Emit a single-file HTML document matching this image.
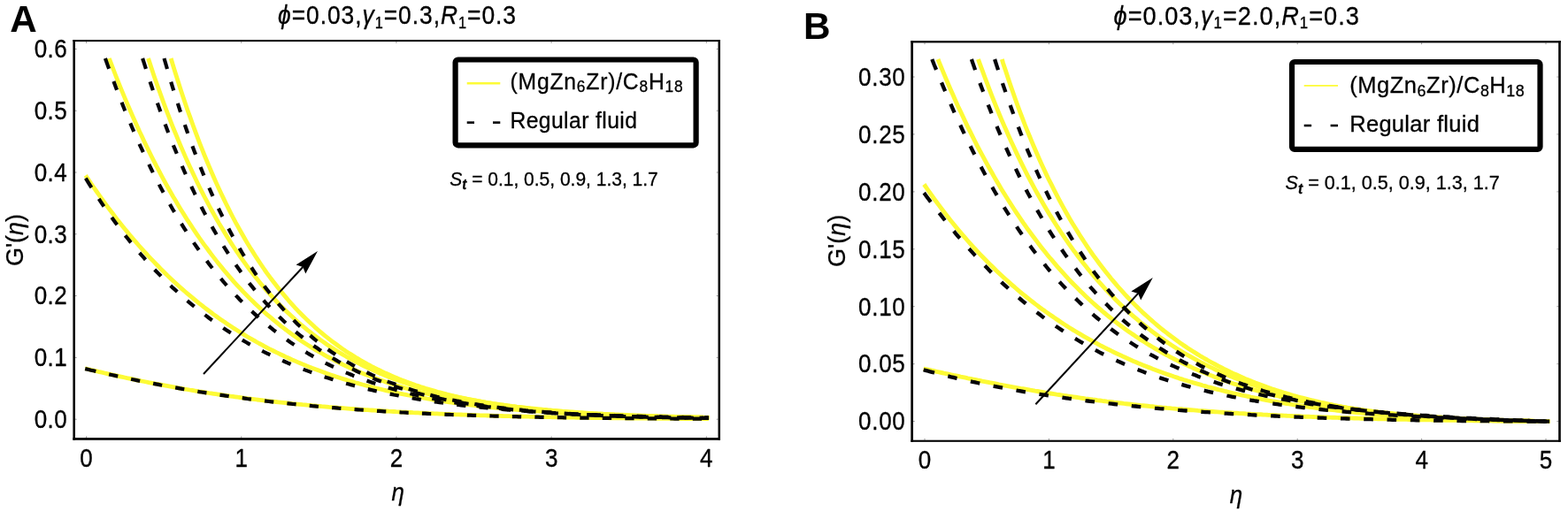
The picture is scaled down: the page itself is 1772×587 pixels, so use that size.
<!DOCTYPE html>
<html lang="en"><head><meta charset="utf-8"><title>Figure</title>
<style>html,body{margin:0;padding:0;background:#fff}body{width:1772px;height:587px;overflow:hidden}svg{display:block}text{font-family:"Liberation Sans", Arial, Helvetica, sans-serif;fill:#000;stroke:#000;stroke-width:0.3px;stroke-linejoin:round}.it{font-style:italic}.b{font-weight:bold}.ns{stroke:none}</style></head><body>
<svg width="1772" height="587" viewBox="0 0 1772 587">
<rect width="1772" height="587" fill="#fff"/>
<g fill="none" stroke="#fdfb36" stroke-width="4.8" stroke-linejoin="round">
<path d="M96.2,416.7 L97.5,417.0 L100.2,417.7 L102.9,418.4 L105.6,419.0 L108.4,419.6 L111.1,420.3 L113.8,420.9 L116.5,421.5 L119.2,422.2 L121.9,422.8 L124.7,423.4 L127.4,424.0 L130.1,424.6 L132.8,425.2 L135.5,425.8 L138.2,426.4 L140.9,427.0 L143.7,427.6 L146.4,428.1 L149.1,428.7 L151.8,429.3 L154.5,429.8 L157.2,430.4 L160.0,431.0 L162.7,431.5 L165.4,432.0 L168.1,432.6 L170.8,433.1 L173.5,433.6 L176.2,434.2 L179.0,434.7 L181.7,435.2 L184.4,435.7 L187.1,436.2 L189.8,436.7 L192.5,437.2 L195.2,437.7 L198.0,438.2 L200.7,438.6 L203.4,439.1 L206.1,439.6 L208.8,440.1 L211.5,440.5 L214.3,441.0 L217.0,441.4 L219.7,441.9 L222.4,442.3 L225.1,442.8 L227.8,443.2 L230.5,443.6 L233.3,444.0 L236.0,444.5 L238.7,444.9 L241.4,445.3 L244.1,445.7 L246.8,446.1 L249.6,446.5 L252.3,446.9 L255.0,447.3 L257.7,447.7 L260.4,448.1 L263.1,448.4 L265.8,448.8 L268.6,449.2 L271.3,449.5 L274.0,449.9 L276.7,450.3 L279.4,450.6 L282.1,451.0 L284.9,451.3 L287.6,451.6 L290.3,452.0 L293.0,452.3 L295.7,452.6 L298.4,453.0 L301.1,453.3 L303.9,453.6 L306.6,453.9 L309.3,454.2 L312.0,454.5 L314.7,454.8 L317.4,455.1 L320.2,455.4 L322.9,455.7 L325.6,456.0 L328.3,456.3 L331.0,456.6 L333.7,456.8 L336.4,457.1 L339.2,457.4 L341.9,457.7 L344.6,457.9 L347.3,458.2 L350.0,458.4 L352.7,458.7 L355.4,458.9 L358.2,459.2 L360.9,459.4 L363.6,459.7 L366.3,459.9 L369.0,460.1 L371.7,460.4 L374.5,460.6 L377.2,460.8 L379.9,461.0 L382.6,461.3 L385.3,461.5 L388.0,461.7 L390.7,461.9 L393.5,462.1 L396.2,462.3 L398.9,462.5 L401.6,462.7 L404.3,462.9 L407.0,463.1 L409.8,463.3 L412.5,463.5 L415.2,463.6 L417.9,463.8 L420.6,464.0 L423.3,464.2 L426.0,464.4 L428.8,464.5 L431.5,464.7 L434.2,464.9 L436.9,465.0 L439.6,465.2 L442.3,465.3 L445.1,465.5 L447.8,465.7 L450.5,465.8 L453.2,466.0 L455.9,466.1 L458.6,466.2 L461.3,466.4 L464.1,466.5 L466.8,466.7 L469.5,466.8 L472.2,466.9 L474.9,467.1 L477.6,467.2 L480.4,467.3 L483.1,467.5 L485.8,467.6 L488.5,467.7 L491.2,467.8 L493.9,467.9 L496.6,468.1 L499.4,468.2 L502.1,468.3 L504.8,468.4 L507.5,468.5 L510.2,468.6 L512.9,468.7 L515.7,468.8 L518.4,468.9 L521.1,469.0 L523.8,469.1 L526.5,469.2 L529.2,469.3 L531.9,469.4 L534.7,469.5 L537.4,469.6 L540.1,469.7 L542.8,469.8 L545.5,469.9 L548.2,469.9 L550.9,470.0 L553.7,470.1 L556.4,470.2 L559.1,470.3 L561.8,470.3 L564.5,470.4 L567.2,470.5 L570.0,470.6 L572.7,470.6 L575.4,470.7 L578.1,470.8 L580.8,470.8 L583.5,470.9 L586.2,471.0 L589.0,471.0 L591.7,471.1 L594.4,471.2 L597.1,471.2 L599.8,471.3 L602.5,471.4 L605.3,471.4 L608.0,471.5 L610.7,471.5 L613.4,471.6 L616.1,471.6 L618.8,471.7 L621.5,471.7 L624.3,471.8 L627.0,471.8 L629.7,471.9 L632.4,471.9 L635.1,472.0 L637.8,472.0 L640.6,472.1 L643.3,472.1 L646.0,472.2 L648.7,472.2 L651.4,472.3 L654.1,472.3 L656.8,472.3 L659.6,472.4 L662.3,472.4 L665.0,472.5 L667.7,472.5 L670.4,472.5 L673.1,472.6 L675.9,472.6 L678.6,472.6 L681.3,472.7 L684.0,472.7 L686.7,472.7 L689.4,472.8 L692.1,472.8 L694.9,472.8 L697.6,472.9 L700.3,472.9 L703.0,472.9 L705.7,472.9 L708.4,473.0 L711.1,473.0 L713.9,473.0 L716.6,473.1 L719.3,473.1 L722.0,473.1 L724.7,473.1 L727.4,473.2 L730.2,473.2 L732.9,473.2 L735.6,473.2 L738.3,473.2 L741.0,473.3 L743.7,473.3 L746.4,473.3 L749.2,473.3 L751.9,473.4 L754.6,473.4 L757.3,473.4 L760.0,473.4 L762.7,473.4 L765.5,473.4 L768.2,473.5 L770.9,473.5 L773.6,473.5 L776.3,473.5 L779.0,473.5 L781.7,473.5 L784.5,473.6 L787.2,473.6 L789.9,473.6 L792.6,473.6 L795.3,473.6 L798.0,473.6 L800.8,473.6"/>
<path d="M96.8,198.4 L97.5,199.5 L100.2,203.5 L102.9,207.6 L105.6,211.5 L108.4,215.5 L111.1,219.3 L113.8,223.1 L116.5,226.9 L119.2,230.6 L121.9,234.3 L124.7,238.0 L127.4,241.5 L130.1,245.1 L132.8,248.6 L135.5,252.0 L138.2,255.4 L140.9,258.8 L143.7,262.1 L146.4,265.4 L149.1,268.6 L151.8,271.8 L154.5,274.9 L157.2,278.0 L160.0,281.1 L162.7,284.1 L165.4,287.0 L168.1,290.0 L170.8,292.9 L173.5,295.7 L176.2,298.5 L179.0,301.3 L181.7,304.1 L184.4,306.8 L187.1,309.4 L189.8,312.1 L192.5,314.7 L195.2,317.2 L198.0,319.7 L200.7,322.2 L203.4,324.7 L206.1,327.1 L208.8,329.5 L211.5,331.8 L214.3,334.1 L217.0,336.4 L219.7,338.7 L222.4,340.9 L225.1,343.1 L227.8,345.2 L230.5,347.4 L233.3,349.5 L236.0,351.5 L238.7,353.5 L241.4,355.6 L244.1,357.5 L246.8,359.5 L249.6,361.4 L252.3,363.3 L255.0,365.1 L257.7,367.0 L260.4,368.8 L263.1,370.6 L265.8,372.3 L268.6,374.0 L271.3,375.7 L274.0,377.4 L276.7,379.1 L279.4,380.7 L282.1,382.3 L284.9,383.9 L287.6,385.4 L290.3,387.0 L293.0,388.5 L295.7,389.9 L298.4,391.4 L301.1,392.8 L303.9,394.3 L306.6,395.6 L309.3,397.0 L312.0,398.4 L314.7,399.7 L317.4,401.0 L320.2,402.3 L322.9,403.6 L325.6,404.8 L328.3,406.0 L331.0,407.3 L333.7,408.4 L336.4,409.6 L339.2,410.8 L341.9,411.9 L344.6,413.0 L347.3,414.1 L350.0,415.2 L352.7,416.3 L355.4,417.3 L358.2,418.3 L360.9,419.3 L363.6,420.3 L366.3,421.3 L369.0,422.3 L371.7,423.2 L374.5,424.2 L377.2,425.1 L379.9,426.0 L382.6,426.9 L385.3,427.7 L388.0,428.6 L390.7,429.4 L393.5,430.3 L396.2,431.1 L398.9,431.9 L401.6,432.7 L404.3,433.4 L407.0,434.2 L409.8,435.0 L412.5,435.7 L415.2,436.4 L417.9,437.1 L420.6,437.8 L423.3,438.5 L426.0,439.2 L428.8,439.9 L431.5,440.5 L434.2,441.2 L436.9,441.8 L439.6,442.4 L442.3,443.0 L445.1,443.6 L447.8,444.2 L450.5,444.8 L453.2,445.3 L455.9,445.9 L458.6,446.4 L461.3,447.0 L464.1,447.5 L466.8,448.0 L469.5,448.5 L472.2,449.0 L474.9,449.5 L477.6,450.0 L480.4,450.5 L483.1,451.0 L485.8,451.4 L488.5,451.9 L491.2,452.3 L493.9,452.7 L496.6,453.2 L499.4,453.6 L502.1,454.0 L504.8,454.4 L507.5,454.8 L510.2,455.2 L512.9,455.6 L515.7,455.9 L518.4,456.3 L521.1,456.7 L523.8,457.0 L526.5,457.4 L529.2,457.7 L531.9,458.0 L534.7,458.4 L537.4,458.7 L540.1,459.0 L542.8,459.3 L545.5,459.6 L548.2,459.9 L550.9,460.2 L553.7,460.5 L556.4,460.8 L559.1,461.1 L561.8,461.3 L564.5,461.6 L567.2,461.9 L570.0,462.1 L572.7,462.4 L575.4,462.6 L578.1,462.8 L580.8,463.1 L583.5,463.3 L586.2,463.5 L589.0,463.8 L591.7,464.0 L594.4,464.2 L597.1,464.4 L599.8,464.6 L602.5,464.8 L605.3,465.0 L608.0,465.2 L610.7,465.4 L613.4,465.6 L616.1,465.8 L618.8,466.0 L621.5,466.1 L624.3,466.3 L627.0,466.5 L629.7,466.6 L632.4,466.8 L635.1,467.0 L637.8,467.1 L640.6,467.3 L643.3,467.4 L646.0,467.6 L648.7,467.7 L651.4,467.9 L654.1,468.0 L656.8,468.1 L659.6,468.3 L662.3,468.4 L665.0,468.5 L667.7,468.6 L670.4,468.8 L673.1,468.9 L675.9,469.0 L678.6,469.1 L681.3,469.2 L684.0,469.3 L686.7,469.5 L689.4,469.6 L692.1,469.7 L694.9,469.8 L697.6,469.9 L700.3,470.0 L703.0,470.1 L705.7,470.1 L708.4,470.2 L711.1,470.3 L713.9,470.4 L716.6,470.5 L719.3,470.6 L722.0,470.7 L724.7,470.7 L727.4,470.8 L730.2,470.9 L732.9,471.0 L735.6,471.0 L738.3,471.1 L741.0,471.2 L743.7,471.3 L746.4,471.3 L749.2,471.4 L751.9,471.5 L754.6,471.5 L757.3,471.6 L760.0,471.6 L762.7,471.7 L765.5,471.8 L768.2,471.8 L770.9,471.9 L773.6,471.9 L776.3,472.0 L779.0,472.0 L781.7,472.1 L784.5,472.1 L787.2,472.2 L789.9,472.2 L792.6,472.3 L795.3,472.3 L798.0,472.4 L800.8,472.4"/>
<path d="M123.3,66.0 L125.2,70.9 L127.9,78.0 L130.6,85.0 L133.3,91.8 L136.0,98.6 L138.7,105.2 L141.4,111.7 L144.2,118.1 L146.9,124.5 L149.6,130.7 L152.3,136.8 L155.0,142.8 L157.7,148.8 L160.5,154.6 L163.2,160.4 L165.9,166.0 L168.6,171.6 L171.3,177.1 L174.0,182.4 L176.7,187.7 L179.5,192.9 L182.2,198.1 L184.9,203.1 L187.6,208.1 L190.3,213.0 L193.0,217.8 L195.7,222.5 L198.5,227.1 L201.2,231.7 L203.9,236.2 L206.6,240.6 L209.3,244.9 L212.0,249.2 L214.8,253.4 L217.5,257.5 L220.2,261.6 L222.9,265.6 L225.6,269.5 L228.3,273.3 L231.0,277.1 L233.8,280.8 L236.5,284.5 L239.2,288.1 L241.9,291.6 L244.6,295.1 L247.3,298.5 L250.1,301.9 L252.8,305.2 L255.5,308.4 L258.2,311.6 L260.9,314.7 L263.6,317.8 L266.3,320.8 L269.1,323.8 L271.8,326.7 L274.5,329.6 L277.2,332.4 L279.9,335.2 L282.6,337.9 L285.4,340.6 L288.1,343.2 L290.8,345.7 L293.5,348.3 L296.2,350.8 L298.9,353.2 L301.6,355.6 L304.4,357.9 L307.1,360.2 L309.8,362.5 L312.5,364.7 L315.2,366.9 L317.9,369.1 L320.7,371.2 L323.4,373.2 L326.1,375.3 L328.8,377.3 L331.5,379.2 L334.2,381.1 L336.9,383.0 L339.7,384.9 L342.4,386.7 L345.1,388.5 L347.8,390.2 L350.5,391.9 L353.2,393.6 L355.9,395.3 L358.7,396.9 L361.4,398.5 L364.1,400.0 L366.8,401.6 L369.5,403.1 L372.2,404.5 L375.0,406.0 L377.7,407.4 L380.4,408.8 L383.1,410.1 L385.8,411.5 L388.5,412.8 L391.2,414.1 L394.0,415.3 L396.7,416.6 L399.4,417.8 L402.1,419.0 L404.8,420.1 L407.5,421.3 L410.3,422.4 L413.0,423.5 L415.7,424.6 L418.4,425.6 L421.1,426.7 L423.8,427.7 L426.5,428.7 L429.3,429.7 L432.0,430.6 L434.7,431.6 L437.4,432.5 L440.1,433.4 L442.8,434.3 L445.6,435.1 L448.3,436.0 L451.0,436.8 L453.7,437.6 L456.4,438.4 L459.1,439.2 L461.8,440.0 L464.6,440.7 L467.3,441.4 L470.0,442.2 L472.7,442.9 L475.4,443.6 L478.1,444.2 L480.9,444.9 L483.6,445.5 L486.3,446.2 L489.0,446.8 L491.7,447.4 L494.4,448.0 L497.1,448.6 L499.9,449.2 L502.6,449.7 L505.3,450.3 L508.0,450.8 L510.7,451.3 L513.4,451.9 L516.2,452.4 L518.9,452.9 L521.6,453.3 L524.3,453.8 L527.0,454.3 L529.7,454.7 L532.4,455.2 L535.2,455.6 L537.9,456.0 L540.6,456.4 L543.3,456.9 L546.0,457.3 L548.7,457.6 L551.4,458.0 L554.2,458.4 L556.9,458.8 L559.6,459.1 L562.3,459.5 L565.0,459.8 L567.7,460.1 L570.5,460.5 L573.2,460.8 L575.9,461.1 L578.6,461.4 L581.3,461.7 L584.0,462.0 L586.7,462.3 L589.5,462.6 L592.2,462.8 L594.9,463.1 L597.6,463.4 L600.3,463.6 L603.0,463.9 L605.8,464.1 L608.5,464.4 L611.2,464.6 L613.9,464.8 L616.6,465.0 L619.3,465.3 L622.0,465.5 L624.8,465.7 L627.5,465.9 L630.2,466.1 L632.9,466.3 L635.6,466.5 L638.3,466.7 L641.1,466.8 L643.8,467.0 L646.5,467.2 L649.2,467.4 L651.9,467.5 L654.6,467.7 L657.3,467.9 L660.1,468.0 L662.8,468.2 L665.5,468.3 L668.2,468.5 L670.9,468.6 L673.6,468.7 L676.4,468.9 L679.1,469.0 L681.8,469.1 L684.5,469.3 L687.2,469.4 L689.9,469.5 L692.6,469.6 L695.4,469.7 L698.1,469.8 L700.8,469.9 L703.5,470.1 L706.2,470.2 L708.9,470.3 L711.6,470.4 L714.4,470.5 L717.1,470.6 L719.8,470.6 L722.5,470.7 L725.2,470.8 L727.9,470.9 L730.7,471.0 L733.4,471.1 L736.1,471.2 L738.8,471.2 L741.5,471.3 L744.2,471.4 L746.9,471.4 L749.7,471.5 L752.4,471.6 L755.1,471.7 L757.8,471.7 L760.5,471.8 L763.2,471.8 L766.0,471.9 L768.7,472.0 L771.4,472.0 L774.1,472.1 L776.8,472.1 L779.5,472.2 L782.2,472.2 L785.0,472.3 L787.7,472.3 L790.4,472.4 L793.1,472.4 L795.8,472.5 L798.5,472.5 L801.3,472.6"/>
<path d="M167.5,66.0 L168.7,69.6 L171.4,77.8 L174.1,85.9 L176.8,93.8 L179.6,101.5 L182.3,109.1 L185.0,116.5 L187.7,123.8 L190.4,130.9 L193.1,137.9 L195.8,144.8 L198.6,151.5 L201.3,158.1 L204.0,164.6 L206.7,170.9 L209.4,177.1 L212.1,183.2 L214.9,189.2 L217.6,195.1 L220.3,200.8 L223.0,206.5 L225.7,212.0 L228.4,217.4 L231.1,222.7 L233.9,227.9 L236.6,233.0 L239.3,238.0 L242.0,242.9 L244.7,247.7 L247.4,252.4 L250.2,257.0 L252.9,261.5 L255.6,266.0 L258.3,270.3 L261.0,274.6 L263.7,278.7 L266.4,282.8 L269.2,286.8 L271.9,290.8 L274.6,294.6 L277.3,298.4 L280.0,302.1 L282.7,305.7 L285.5,309.2 L288.2,312.7 L290.9,316.1 L293.6,319.4 L296.3,322.7 L299.0,325.9 L301.7,329.1 L304.5,332.1 L307.2,335.1 L309.9,338.1 L312.6,341.0 L315.3,343.8 L318.0,346.6 L320.8,349.3 L323.5,352.0 L326.2,354.6 L328.9,357.1 L331.6,359.6 L334.3,362.1 L337.0,364.5 L339.8,366.8 L342.5,369.1 L345.2,371.4 L347.9,373.6 L350.6,375.7 L353.3,377.9 L356.0,379.9 L358.8,382.0 L361.5,384.0 L364.2,385.9 L366.9,387.8 L369.6,389.7 L372.3,391.5 L375.1,393.3 L377.8,395.1 L380.5,396.8 L383.2,398.5 L385.9,400.1 L388.6,401.7 L391.3,403.3 L394.1,404.8 L396.8,406.4 L399.5,407.8 L402.2,409.3 L404.9,410.7 L407.6,412.1 L410.4,413.5 L413.1,414.8 L415.8,416.1 L418.5,417.4 L421.2,418.6 L423.9,419.8 L426.6,421.0 L429.4,422.2 L432.1,423.4 L434.8,424.5 L437.5,425.6 L440.2,426.7 L442.9,427.7 L445.7,428.7 L448.4,429.7 L451.1,430.7 L453.8,431.7 L456.5,432.6 L459.2,433.6 L461.9,434.5 L464.7,435.4 L467.4,436.2 L470.1,437.1 L472.8,437.9 L475.5,438.7 L478.2,439.5 L481.0,440.3 L483.7,441.0 L486.4,441.8 L489.1,442.5 L491.8,443.2 L494.5,443.9 L497.2,444.6 L500.0,445.3 L502.7,445.9 L505.4,446.6 L508.1,447.2 L510.8,447.8 L513.5,448.4 L516.3,449.0 L519.0,449.5 L521.7,450.1 L524.4,450.7 L527.1,451.2 L529.8,451.7 L532.5,452.2 L535.3,452.7 L538.0,453.2 L540.7,453.7 L543.4,454.2 L546.1,454.6 L548.8,455.1 L551.5,455.5 L554.3,455.9 L557.0,456.4 L559.7,456.8 L562.4,457.2 L565.1,457.6 L567.8,457.9 L570.6,458.3 L573.3,458.7 L576.0,459.0 L578.7,459.4 L581.4,459.7 L584.1,460.1 L586.8,460.4 L589.6,460.7 L592.3,461.0 L595.0,461.3 L597.7,461.6 L600.4,461.9 L603.1,462.2 L605.9,462.5 L608.6,462.8 L611.3,463.0 L614.0,463.3 L616.7,463.5 L619.4,463.8 L622.1,464.0 L624.9,464.3 L627.6,464.5 L630.3,464.7 L633.0,464.9 L635.7,465.2 L638.4,465.4 L641.2,465.6 L643.9,465.8 L646.6,466.0 L649.3,466.2 L652.0,466.4 L654.7,466.6 L657.4,466.7 L660.2,466.9 L662.9,467.1 L665.6,467.3 L668.3,467.4 L671.0,467.6 L673.7,467.7 L676.5,467.9 L679.2,468.0 L681.9,468.2 L684.6,468.3 L687.3,468.5 L690.0,468.6 L692.7,468.7 L695.5,468.9 L698.2,469.0 L700.9,469.1 L703.6,469.2 L706.3,469.4 L709.0,469.5 L711.7,469.6 L714.5,469.7 L717.2,469.8 L719.9,469.9 L722.6,470.0 L725.3,470.1 L728.0,470.2 L730.8,470.3 L733.5,470.4 L736.2,470.5 L738.9,470.6 L741.6,470.7 L744.3,470.8 L747.0,470.8 L749.8,470.9 L752.5,471.0 L755.2,471.1 L757.9,471.2 L760.6,471.2 L763.3,471.3 L766.1,471.4 L768.8,471.4 L771.5,471.5 L774.2,471.6 L776.9,471.6 L779.6,471.7 L782.3,471.8 L785.1,471.8 L787.8,471.9 L790.5,471.9 L793.2,472.0 L795.9,472.1 L798.6,472.1 L801.4,472.2"/>
<path d="M193.2,66.0 L195.7,74.6 L198.5,83.4 L201.2,92.0 L203.9,100.5 L206.6,108.7 L209.3,116.8 L212.0,124.7 L214.8,132.4 L217.5,140.0 L220.2,147.4 L222.9,154.7 L225.6,161.8 L228.3,168.7 L231.0,175.5 L233.8,182.2 L236.5,188.7 L239.2,195.0 L241.9,201.3 L244.6,207.4 L247.3,213.3 L250.1,219.2 L252.8,224.9 L255.5,230.5 L258.2,235.9 L260.9,241.3 L263.6,246.5 L266.3,251.6 L269.1,256.6 L271.8,261.5 L274.5,266.3 L277.2,271.0 L279.9,275.6 L282.6,280.1 L285.4,284.4 L288.1,288.7 L290.8,292.9 L293.5,297.0 L296.2,301.0 L298.9,305.0 L301.6,308.8 L304.4,312.6 L307.1,316.2 L309.8,319.8 L312.5,323.3 L315.2,326.8 L317.9,330.1 L320.7,333.4 L323.4,336.6 L326.1,339.8 L328.8,342.8 L331.5,345.8 L334.2,348.8 L336.9,351.7 L339.7,354.5 L342.4,357.2 L345.1,359.9 L347.8,362.5 L350.5,365.1 L353.2,367.6 L355.9,370.1 L358.7,372.5 L361.4,374.8 L364.1,377.1 L366.8,379.3 L369.5,381.5 L372.2,383.7 L375.0,385.8 L377.7,387.8 L380.4,389.8 L383.1,391.8 L385.8,393.7 L388.5,395.6 L391.2,397.4 L394.0,399.2 L396.7,400.9 L399.4,402.6 L402.1,404.3 L404.8,405.9 L407.5,407.5 L410.3,409.1 L413.0,410.6 L415.7,412.1 L418.4,413.5 L421.1,415.0 L423.8,416.3 L426.5,417.7 L429.3,419.0 L432.0,420.3 L434.7,421.6 L437.4,422.8 L440.1,424.0 L442.8,425.2 L445.6,426.4 L448.3,427.5 L451.0,428.6 L453.7,429.7 L456.4,430.7 L459.1,431.8 L461.8,432.8 L464.6,433.8 L467.3,434.7 L470.0,435.7 L472.7,436.6 L475.4,437.5 L478.1,438.3 L480.9,439.2 L483.6,440.0 L486.3,440.8 L489.0,441.6 L491.7,442.4 L494.4,443.2 L497.1,443.9 L499.9,444.6 L502.6,445.3 L505.3,446.0 L508.0,446.7 L510.7,447.4 L513.4,448.0 L516.2,448.6 L518.9,449.3 L521.6,449.9 L524.3,450.4 L527.0,451.0 L529.7,451.6 L532.4,452.1 L535.2,452.7 L537.9,453.2 L540.6,453.7 L543.3,454.2 L546.0,454.7 L548.7,455.1 L551.4,455.6 L554.2,456.0 L556.9,456.5 L559.6,456.9 L562.3,457.3 L565.0,457.7 L567.7,458.1 L570.5,458.5 L573.2,458.9 L575.9,459.3 L578.6,459.7 L581.3,460.0 L584.0,460.4 L586.7,460.7 L589.5,461.0 L592.2,461.4 L594.9,461.7 L597.6,462.0 L600.3,462.3 L603.0,462.6 L605.8,462.9 L608.5,463.1 L611.2,463.4 L613.9,463.7 L616.6,463.9 L619.3,464.2 L622.0,464.4 L624.8,464.7 L627.5,464.9 L630.2,465.1 L632.9,465.4 L635.6,465.6 L638.3,465.8 L641.1,466.0 L643.8,466.2 L646.5,466.4 L649.2,466.6 L651.9,466.8 L654.6,467.0 L657.3,467.1 L660.1,467.3 L662.8,467.5 L665.5,467.7 L668.2,467.8 L670.9,468.0 L673.6,468.1 L676.4,468.3 L679.1,468.4 L681.8,468.6 L684.5,468.7 L687.2,468.9 L689.9,469.0 L692.6,469.1 L695.4,469.3 L698.1,469.4 L700.8,469.5 L703.5,469.6 L706.2,469.7 L708.9,469.8 L711.6,470.0 L714.4,470.1 L717.1,470.2 L719.8,470.3 L722.5,470.4 L725.2,470.5 L727.9,470.6 L730.7,470.7 L733.4,470.7 L736.1,470.8 L738.8,470.9 L741.5,471.0 L744.2,471.1 L746.9,471.2 L749.7,471.2 L752.4,471.3 L755.1,471.4 L757.8,471.5 L760.5,471.5 L763.2,471.6 L766.0,471.7 L768.7,471.7 L771.4,471.8 L774.1,471.9 L776.8,471.9 L779.5,472.0 L782.2,472.0 L785.0,472.1 L787.7,472.1 L790.4,472.2 L793.1,472.2 L795.8,472.3 L798.5,472.3 L801.3,472.4"/>
</g>
<g fill="none" stroke="#050508" stroke-width="4.2" stroke-dasharray="12.5 15.2 10.3 15.2 10.3 15.2 10.3 15.2 10.3 15.2 10.3 15.2 10.3 15.2 10.3 15.2 10.3 15.2 10.3 15.2 10.3 15.2 10.3 15.2 10.3 15.2 10.3 15.2 10.3 15.2 10.3 15.2 10.3 15.2 10.3 15.2 10.3 15.2 10.3 15.2 10.3 15.2 10.3 15.2 10.3 15.2 10.3 15.2 10.3 15.2 10.3 15.2 10.3 15.2 10.3 15.2 10.3 15.2 10.3 15.2 10.3 15.2 10.3 15.2 10.3 15.2 10.3 15.2 10.3 15.2 10.3 15.2 10.3 15.2 10.3 15.2 10.3 15.2 10.3 15.2 10.3 15.2 10.3 15.2 10.3 15.2 10.3 15.2 10.3 15.2" stroke-linejoin="round">
<path d="M96.2,417.1 L97.5,417.4 L100.2,418.0 L102.9,418.7 L105.6,419.3 L108.4,420.0 L111.1,420.6 L113.8,421.2 L116.5,421.8 L119.2,422.5 L121.9,423.1 L124.7,423.7 L127.4,424.3 L130.1,424.9 L132.8,425.5 L135.5,426.1 L138.2,426.7 L140.9,427.3 L143.7,427.8 L146.4,428.4 L149.1,429.0 L151.8,429.5 L154.5,430.1 L157.2,430.7 L160.0,431.2 L162.7,431.8 L165.4,432.3 L168.1,432.8 L170.8,433.4 L173.5,433.9 L176.2,434.4 L179.0,434.9 L181.7,435.5 L184.4,436.0 L187.1,436.5 L189.8,437.0 L192.5,437.5 L195.2,438.0 L198.0,438.4 L200.7,438.9 L203.4,439.4 L206.1,439.9 L208.8,440.3 L211.5,440.8 L214.3,441.3 L217.0,441.7 L219.7,442.2 L222.4,442.6 L225.1,443.1 L227.8,443.5 L230.5,443.9 L233.3,444.4 L236.0,444.8 L238.7,445.2 L241.4,445.6 L244.1,446.0 L246.8,446.4 L249.6,446.8 L252.3,447.2 L255.0,447.6 L257.7,448.0 L260.4,448.4 L263.1,448.8 L265.8,449.1 L268.6,449.5 L271.3,449.9 L274.0,450.2 L276.7,450.6 L279.4,451.0 L282.1,451.3 L284.9,451.7 L287.6,452.0 L290.3,452.3 L293.0,452.7 L295.7,453.0 L298.4,453.3 L301.1,453.7 L303.9,454.0 L306.6,454.3 L309.3,454.6 L312.0,454.9 L314.7,455.2 L317.4,455.5 L320.2,455.8 L322.9,456.1 L325.6,456.4 L328.3,456.7 L331.0,457.0 L333.7,457.2 L336.4,457.5 L339.2,457.8 L341.9,458.1 L344.6,458.3 L347.3,458.6 L350.0,458.8 L352.7,459.1 L355.4,459.3 L358.2,459.6 L360.9,459.8 L363.6,460.1 L366.3,460.3 L369.0,460.5 L371.7,460.8 L374.5,461.0 L377.2,461.2 L379.9,461.4 L382.6,461.7 L385.3,461.9 L388.0,462.1 L390.7,462.3 L393.5,462.5 L396.2,462.7 L398.9,462.9 L401.6,463.1 L404.3,463.3 L407.0,463.5 L409.8,463.7 L412.5,463.9 L415.2,464.1 L417.9,464.2 L420.6,464.4 L423.3,464.6 L426.0,464.8 L428.8,464.9 L431.5,465.1 L434.2,465.3 L436.9,465.4 L439.6,465.6 L442.3,465.7 L445.1,465.9 L447.8,466.1 L450.5,466.2 L453.2,466.4 L455.9,466.5 L458.6,466.6 L461.3,466.8 L464.1,466.9 L466.8,467.1 L469.5,467.2 L472.2,467.3 L474.9,467.5 L477.6,467.6 L480.4,467.7 L483.1,467.8 L485.8,468.0 L488.5,468.1 L491.2,468.2 L493.9,468.3 L496.6,468.4 L499.4,468.5 L502.1,468.7 L504.8,468.8 L507.5,468.9 L510.2,469.0 L512.9,469.1 L515.7,469.2 L518.4,469.3 L521.1,469.4 L523.8,469.5 L526.5,469.6 L529.2,469.7 L531.9,469.7 L534.7,469.8 L537.4,469.9 L540.1,470.0 L542.8,470.1 L545.5,470.2 L548.2,470.3 L550.9,470.3 L553.7,470.4 L556.4,470.5 L559.1,470.6 L561.8,470.7 L564.5,470.7 L567.2,470.8 L570.0,470.9 L572.7,470.9 L575.4,471.0 L578.1,471.1 L580.8,471.1 L583.5,471.2 L586.2,471.3 L589.0,471.3 L591.7,471.4 L594.4,471.5 L597.1,471.5 L599.8,471.6 L602.5,471.6 L605.3,471.7 L608.0,471.7 L610.7,471.8 L613.4,471.8 L616.1,471.9 L618.8,471.9 L621.5,472.0 L624.3,472.0 L627.0,472.1 L629.7,472.1 L632.4,472.2 L635.1,472.2 L637.8,472.3 L640.6,472.3 L643.3,472.4 L646.0,472.4 L648.7,472.4 L651.4,472.5 L654.1,472.5 L656.8,472.6 L659.6,472.6 L662.3,472.6 L665.0,472.7 L667.7,472.7 L670.4,472.7 L673.1,472.8 L675.9,472.8 L678.6,472.8 L681.3,472.9 L684.0,472.9 L686.7,472.9 L689.4,473.0 L692.1,473.0 L694.9,473.0 L697.6,473.0 L700.3,473.1 L703.0,473.1 L705.7,473.1 L708.4,473.1 L711.1,473.2 L713.9,473.2 L716.6,473.2 L719.3,473.2 L722.0,473.3 L724.7,473.3 L727.4,473.3 L730.2,473.3 L732.9,473.4 L735.6,473.4 L738.3,473.4 L741.0,473.4 L743.7,473.4 L746.4,473.4 L749.2,473.5 L751.9,473.5 L754.6,473.5 L757.3,473.5 L760.0,473.5 L762.7,473.6 L765.5,473.6 L768.2,473.6 L770.9,473.6 L773.6,473.6 L776.3,473.6 L779.0,473.6 L781.7,473.7 L784.5,473.7 L787.2,473.7 L789.9,473.7 L792.6,473.7 L795.3,473.7 L798.0,473.7 L800.8,473.7"/>
<path d="M96.8,201.6 L97.5,202.7 L100.2,207.1 L102.9,211.4 L105.6,215.7 L108.4,219.9 L111.1,224.0 L113.8,228.1 L116.5,232.1 L119.2,236.0 L121.9,239.9 L124.7,243.7 L127.4,247.5 L130.1,251.2 L132.8,254.9 L135.5,258.5 L138.2,262.1 L140.9,265.6 L143.7,269.0 L146.4,272.4 L149.1,275.8 L151.8,279.1 L154.5,282.3 L157.2,285.5 L160.0,288.6 L162.7,291.7 L165.4,294.8 L168.1,297.8 L170.8,300.8 L173.5,303.7 L176.2,306.5 L179.0,309.4 L181.7,312.1 L184.4,314.9 L187.1,317.6 L189.8,320.2 L192.5,322.8 L195.2,325.4 L198.0,327.9 L200.7,330.4 L203.4,332.9 L206.1,335.3 L208.8,337.7 L211.5,340.0 L214.3,342.3 L217.0,344.6 L219.7,346.8 L222.4,349.0 L225.1,351.2 L227.8,353.3 L230.5,355.4 L233.3,357.4 L236.0,359.5 L238.7,361.5 L241.4,363.4 L244.1,365.4 L246.8,367.3 L249.6,369.1 L252.3,371.0 L255.0,372.8 L257.7,374.5 L260.4,376.3 L263.1,378.0 L265.8,379.7 L268.6,381.4 L271.3,383.0 L274.0,384.6 L276.7,386.2 L279.4,387.8 L282.1,389.3 L284.9,390.8 L287.6,392.3 L290.3,393.8 L293.0,395.2 L295.7,396.6 L298.4,398.0 L301.1,399.4 L303.9,400.7 L306.6,402.0 L309.3,403.3 L312.0,404.6 L314.7,405.9 L317.4,407.1 L320.2,408.3 L322.9,409.5 L325.6,410.7 L328.3,411.8 L331.0,413.0 L333.7,414.1 L336.4,415.2 L339.2,416.3 L341.9,417.3 L344.6,418.4 L347.3,419.4 L350.0,420.4 L352.7,421.4 L355.4,422.3 L358.2,423.3 L360.9,424.2 L363.6,425.2 L366.3,426.1 L369.0,427.0 L371.7,427.8 L374.5,428.7 L377.2,429.5 L379.9,430.4 L382.6,431.2 L385.3,432.0 L388.0,432.8 L390.7,433.6 L393.5,434.3 L396.2,435.1 L398.9,435.8 L401.6,436.5 L404.3,437.2 L407.0,437.9 L409.8,438.6 L412.5,439.3 L415.2,440.0 L417.9,440.6 L420.6,441.2 L423.3,441.9 L426.0,442.5 L428.8,443.1 L431.5,443.7 L434.2,444.3 L436.9,444.8 L439.6,445.4 L442.3,445.9 L445.1,446.5 L447.8,447.0 L450.5,447.5 L453.2,448.1 L455.9,448.6 L458.6,449.1 L461.3,449.5 L464.1,450.0 L466.8,450.5 L469.5,451.0 L472.2,451.4 L474.9,451.8 L477.6,452.3 L480.4,452.7 L483.1,453.1 L485.8,453.5 L488.5,453.9 L491.2,454.3 L493.9,454.7 L496.6,455.1 L499.4,455.5 L502.1,455.9 L504.8,456.2 L507.5,456.6 L510.2,456.9 L512.9,457.3 L515.7,457.6 L518.4,457.9 L521.1,458.3 L523.8,458.6 L526.5,458.9 L529.2,459.2 L531.9,459.5 L534.7,459.8 L537.4,460.1 L540.1,460.4 L542.8,460.6 L545.5,460.9 L548.2,461.2 L550.9,461.4 L553.7,461.7 L556.4,461.9 L559.1,462.2 L561.8,462.4 L564.5,462.7 L567.2,462.9 L570.0,463.1 L572.7,463.4 L575.4,463.6 L578.1,463.8 L580.8,464.0 L583.5,464.2 L586.2,464.4 L589.0,464.6 L591.7,464.8 L594.4,465.0 L597.1,465.2 L599.8,465.4 L602.5,465.6 L605.3,465.7 L608.0,465.9 L610.7,466.1 L613.4,466.3 L616.1,466.4 L618.8,466.6 L621.5,466.7 L624.3,466.9 L627.0,467.0 L629.7,467.2 L632.4,467.3 L635.1,467.5 L637.8,467.6 L640.6,467.8 L643.3,467.9 L646.0,468.0 L648.7,468.2 L651.4,468.3 L654.1,468.4 L656.8,468.5 L659.6,468.7 L662.3,468.8 L665.0,468.9 L667.7,469.0 L670.4,469.1 L673.1,469.2 L675.9,469.3 L678.6,469.4 L681.3,469.5 L684.0,469.6 L686.7,469.7 L689.4,469.8 L692.1,469.9 L694.9,470.0 L697.6,470.1 L700.3,470.2 L703.0,470.3 L705.7,470.4 L708.4,470.4 L711.1,470.5 L713.9,470.6 L716.6,470.7 L719.3,470.7 L722.0,470.8 L724.7,470.9 L727.4,471.0 L730.2,471.0 L732.9,471.1 L735.6,471.2 L738.3,471.2 L741.0,471.3 L743.7,471.4 L746.4,471.4 L749.2,471.5 L751.9,471.5 L754.6,471.6 L757.3,471.7 L760.0,471.7 L762.7,471.8 L765.5,471.8 L768.2,471.9 L770.9,471.9 L773.6,472.0 L776.3,472.0 L779.0,472.1 L781.7,472.1 L784.5,472.2 L787.2,472.2 L789.9,472.3 L792.6,472.3 L795.3,472.3 L798.0,472.4 L800.8,472.4"/>
<path d="M118.9,66.0 L119.2,66.8 L121.9,74.4 L124.7,81.9 L127.4,89.2 L130.1,96.5 L132.8,103.6 L135.5,110.6 L138.2,117.4 L140.9,124.2 L143.7,130.8 L146.4,137.3 L149.1,143.7 L151.8,150.0 L154.5,156.1 L157.2,162.2 L160.0,168.2 L162.7,174.0 L165.4,179.8 L168.1,185.4 L170.8,191.0 L173.5,196.4 L176.2,201.8 L179.0,207.1 L181.7,212.2 L184.4,217.3 L187.1,222.3 L189.8,227.2 L192.5,232.0 L195.2,236.7 L198.0,241.4 L200.7,245.9 L203.4,250.4 L206.1,254.8 L208.8,259.1 L211.5,263.3 L214.3,267.5 L217.0,271.6 L219.7,275.6 L222.4,279.5 L225.1,283.4 L227.8,287.2 L230.5,290.9 L233.3,294.6 L236.0,298.2 L238.7,301.7 L241.4,305.1 L244.1,308.5 L246.8,311.9 L249.6,315.1 L252.3,318.3 L255.0,321.5 L257.7,324.6 L260.4,327.6 L263.1,330.6 L265.8,333.5 L268.6,336.3 L271.3,339.2 L274.0,341.9 L276.7,344.6 L279.4,347.3 L282.1,349.9 L284.9,352.4 L287.6,354.9 L290.3,357.4 L293.0,359.8 L295.7,362.1 L298.4,364.5 L301.1,366.7 L303.9,369.0 L306.6,371.1 L309.3,373.3 L312.0,375.4 L314.7,377.5 L317.4,379.5 L320.2,381.5 L322.9,383.4 L325.6,385.3 L328.3,387.2 L331.0,389.0 L333.7,390.8 L336.4,392.6 L339.2,394.3 L341.9,396.0 L344.6,397.6 L347.3,399.3 L350.0,400.9 L352.7,402.4 L355.4,404.0 L358.2,405.5 L360.9,406.9 L363.6,408.4 L366.3,409.8 L369.0,411.2 L371.7,412.5 L374.5,413.8 L377.2,415.1 L379.9,416.4 L382.6,417.7 L385.3,418.9 L388.0,420.1 L390.7,421.3 L393.5,422.4 L396.2,423.5 L398.9,424.7 L401.6,425.7 L404.3,426.8 L407.0,427.8 L409.8,428.9 L412.5,429.8 L415.2,430.8 L417.9,431.8 L420.6,432.7 L423.3,433.6 L426.0,434.5 L428.8,435.4 L431.5,436.3 L434.2,437.1 L436.9,437.9 L439.6,438.7 L442.3,439.5 L445.1,440.3 L447.8,441.1 L450.5,441.8 L453.2,442.5 L455.9,443.2 L458.6,443.9 L461.3,444.6 L464.1,445.3 L466.8,445.9 L469.5,446.6 L472.2,447.2 L474.9,447.8 L477.6,448.4 L480.4,449.0 L483.1,449.6 L485.8,450.1 L488.5,450.7 L491.2,451.2 L493.9,451.8 L496.6,452.3 L499.4,452.8 L502.1,453.3 L504.8,453.7 L507.5,454.2 L510.2,454.7 L512.9,455.1 L515.7,455.6 L518.4,456.0 L521.1,456.4 L523.8,456.8 L526.5,457.2 L529.2,457.6 L531.9,458.0 L534.7,458.4 L537.4,458.8 L540.1,459.1 L542.8,459.5 L545.5,459.8 L548.2,460.2 L550.9,460.5 L553.7,460.8 L556.4,461.1 L559.1,461.4 L561.8,461.7 L564.5,462.0 L567.2,462.3 L570.0,462.6 L572.7,462.9 L575.4,463.2 L578.1,463.4 L580.8,463.7 L583.5,463.9 L586.2,464.2 L589.0,464.4 L591.7,464.7 L594.4,464.9 L597.1,465.1 L599.8,465.3 L602.5,465.5 L605.3,465.7 L608.0,466.0 L610.7,466.2 L613.4,466.3 L616.1,466.5 L618.8,466.7 L621.5,466.9 L624.3,467.1 L627.0,467.3 L629.7,467.4 L632.4,467.6 L635.1,467.8 L637.8,467.9 L640.6,468.1 L643.3,468.2 L646.0,468.4 L648.7,468.5 L651.4,468.6 L654.1,468.8 L656.8,468.9 L659.6,469.0 L662.3,469.2 L665.0,469.3 L667.7,469.4 L670.4,469.5 L673.1,469.7 L675.9,469.8 L678.6,469.9 L681.3,470.0 L684.0,470.1 L686.7,470.2 L689.4,470.3 L692.1,470.4 L694.9,470.5 L697.6,470.6 L700.3,470.7 L703.0,470.8 L705.7,470.9 L708.4,470.9 L711.1,471.0 L713.9,471.1 L716.6,471.2 L719.3,471.3 L722.0,471.3 L724.7,471.4 L727.4,471.5 L730.2,471.5 L732.9,471.6 L735.6,471.7 L738.3,471.7 L741.0,471.8 L743.7,471.9 L746.4,471.9 L749.2,472.0 L751.9,472.0 L754.6,472.1 L757.3,472.2 L760.0,472.2 L762.7,472.3 L765.5,472.3 L768.2,472.4 L770.9,472.4 L773.6,472.5 L776.3,472.5 L779.0,472.5 L781.7,472.6 L784.5,472.6 L787.2,472.7 L789.9,472.7 L792.6,472.7 L795.3,472.8 L798.0,472.8 L800.8,472.9"/>
<path d="M161.1,66.0 L162.7,70.9 L165.4,79.4 L168.1,87.8 L170.8,96.0 L173.5,104.0 L176.2,111.9 L179.0,119.6 L181.7,127.1 L184.4,134.5 L187.1,141.8 L189.8,148.9 L192.5,155.8 L195.2,162.7 L198.0,169.4 L200.7,175.9 L203.4,182.3 L206.1,188.6 L208.8,194.8 L211.5,200.8 L214.3,206.7 L217.0,212.5 L219.7,218.2 L222.4,223.8 L225.1,229.2 L227.8,234.5 L230.5,239.8 L233.3,244.9 L236.0,249.9 L238.7,254.8 L241.4,259.6 L244.1,264.3 L246.8,268.9 L249.6,273.4 L252.3,277.9 L255.0,282.2 L257.7,286.4 L260.4,290.6 L263.1,294.6 L265.8,298.6 L268.6,302.5 L271.3,306.3 L274.0,310.1 L276.7,313.7 L279.4,317.3 L282.1,320.8 L284.9,324.2 L287.6,327.6 L290.3,330.9 L293.0,334.1 L295.7,337.2 L298.4,340.3 L301.1,343.3 L303.9,346.3 L306.6,349.2 L309.3,352.0 L312.0,354.8 L314.7,357.5 L317.4,360.1 L320.2,362.7 L322.9,365.2 L325.6,367.7 L328.3,370.2 L331.0,372.5 L333.7,374.9 L336.4,377.1 L339.2,379.3 L341.9,381.5 L344.6,383.7 L347.3,385.7 L350.0,387.8 L352.7,389.8 L355.4,391.7 L358.2,393.6 L360.9,395.5 L363.6,397.3 L366.3,399.1 L369.0,400.8 L371.7,402.5 L374.5,404.2 L377.2,405.8 L379.9,407.4 L382.6,409.0 L385.3,410.5 L388.0,412.0 L390.7,413.5 L393.5,414.9 L396.2,416.3 L398.9,417.6 L401.6,419.0 L404.3,420.3 L407.0,421.6 L409.8,422.8 L412.5,424.0 L415.2,425.2 L417.9,426.4 L420.6,427.5 L423.3,428.6 L426.0,429.7 L428.8,430.8 L431.5,431.8 L434.2,432.8 L436.9,433.8 L439.6,434.8 L442.3,435.7 L445.1,436.6 L447.8,437.5 L450.5,438.4 L453.2,439.3 L455.9,440.1 L458.6,440.9 L461.3,441.7 L464.1,442.5 L466.8,443.3 L469.5,444.0 L472.2,444.8 L474.9,445.5 L477.6,446.2 L480.4,446.9 L483.1,447.5 L485.8,448.2 L488.5,448.8 L491.2,449.5 L493.9,450.1 L496.6,450.6 L499.4,451.2 L502.1,451.8 L504.8,452.3 L507.5,452.9 L510.2,453.4 L512.9,453.9 L515.7,454.4 L518.4,454.9 L521.1,455.4 L523.8,455.9 L526.5,456.3 L529.2,456.8 L531.9,457.2 L534.7,457.6 L537.4,458.0 L540.1,458.4 L542.8,458.8 L545.5,459.2 L548.2,459.6 L550.9,460.0 L553.7,460.3 L556.4,460.7 L559.1,461.0 L561.8,461.3 L564.5,461.7 L567.2,462.0 L570.0,462.3 L572.7,462.6 L575.4,462.9 L578.1,463.2 L580.8,463.4 L583.5,463.7 L586.2,464.0 L589.0,464.2 L591.7,464.5 L594.4,464.7 L597.1,465.0 L599.8,465.2 L602.5,465.5 L605.3,465.7 L608.0,465.9 L610.7,466.1 L613.4,466.3 L616.1,466.5 L618.8,466.7 L621.5,466.9 L624.3,467.1 L627.0,467.3 L629.7,467.5 L632.4,467.6 L635.1,467.8 L637.8,468.0 L640.6,468.1 L643.3,468.3 L646.0,468.4 L648.7,468.6 L651.4,468.7 L654.1,468.9 L656.8,469.0 L659.6,469.2 L662.3,469.3 L665.0,469.4 L667.7,469.5 L670.4,469.7 L673.1,469.8 L675.9,469.9 L678.6,470.0 L681.3,470.1 L684.0,470.2 L686.7,470.3 L689.4,470.4 L692.1,470.5 L694.9,470.6 L697.6,470.7 L700.3,470.8 L703.0,470.9 L705.7,471.0 L708.4,471.1 L711.1,471.2 L713.9,471.3 L716.6,471.3 L719.3,471.4 L722.0,471.5 L724.7,471.6 L727.4,471.6 L730.2,471.7 L732.9,471.8 L735.6,471.8 L738.3,471.9 L741.0,472.0 L743.7,472.0 L746.4,472.1 L749.2,472.1 L751.9,472.2 L754.6,472.2 L757.3,472.3 L760.0,472.4 L762.7,472.4 L765.5,472.5 L768.2,472.5 L770.9,472.5 L773.6,472.6 L776.3,472.6 L779.0,472.7 L781.7,472.7 L784.5,472.8 L787.2,472.8 L789.9,472.8 L792.6,472.9 L795.3,472.9 L798.0,472.9 L800.8,473.0"/>
<path d="M185.5,66.0 L187.1,71.5 L189.8,80.9 L192.5,90.1 L195.2,99.1 L198.0,107.9 L200.7,116.5 L203.4,124.8 L206.1,133.0 L208.8,141.0 L211.5,148.8 L214.3,156.5 L217.0,163.9 L219.7,171.2 L222.4,178.4 L225.1,185.3 L227.8,192.1 L230.5,198.8 L233.3,205.3 L236.0,211.6 L238.7,217.8 L241.4,223.9 L244.1,229.8 L246.8,235.6 L249.6,241.2 L252.3,246.7 L255.0,252.1 L257.7,257.4 L260.4,262.5 L263.1,267.5 L265.8,272.4 L268.6,277.2 L271.3,281.9 L274.0,286.5 L276.7,290.9 L279.4,295.3 L282.1,299.6 L284.9,303.7 L287.6,307.8 L290.3,311.8 L293.0,315.6 L295.7,319.4 L298.4,323.1 L301.1,326.7 L303.9,330.3 L306.6,333.7 L309.3,337.1 L312.0,340.4 L314.7,343.6 L317.4,346.7 L320.2,349.8 L322.9,352.8 L325.6,355.7 L328.3,358.5 L331.0,361.3 L333.7,364.0 L336.4,366.7 L339.2,369.3 L341.9,371.8 L344.6,374.3 L347.3,376.7 L350.0,379.0 L352.7,381.3 L355.4,383.6 L358.2,385.8 L360.9,387.9 L363.6,390.0 L366.3,392.1 L369.0,394.1 L371.7,396.0 L374.5,397.9 L377.2,399.7 L379.9,401.6 L382.6,403.3 L385.3,405.0 L388.0,406.7 L390.7,408.4 L393.5,410.0 L396.2,411.5 L398.9,413.1 L401.6,414.6 L404.3,416.0 L407.0,417.4 L409.8,418.8 L412.5,420.2 L415.2,421.5 L417.9,422.8 L420.6,424.1 L423.3,425.3 L426.0,426.5 L428.8,427.7 L431.5,428.8 L434.2,429.9 L436.9,431.0 L439.6,432.1 L442.3,433.1 L445.1,434.1 L447.8,435.1 L450.5,436.1 L453.2,437.0 L455.9,437.9 L458.6,438.8 L461.3,439.7 L464.1,440.6 L466.8,441.4 L469.5,442.2 L472.2,443.0 L474.9,443.8 L477.6,444.5 L480.4,445.3 L483.1,446.0 L485.8,446.7 L488.5,447.4 L491.2,448.0 L493.9,448.7 L496.6,449.3 L499.4,449.9 L502.1,450.5 L504.8,451.1 L507.5,451.7 L510.2,452.3 L512.9,452.8 L515.7,453.4 L518.4,453.9 L521.1,454.4 L523.8,454.9 L526.5,455.4 L529.2,455.8 L531.9,456.3 L534.7,456.7 L537.4,457.2 L540.1,457.6 L542.8,458.0 L545.5,458.4 L548.2,458.8 L550.9,459.2 L553.7,459.6 L556.4,460.0 L559.1,460.3 L561.8,460.7 L564.5,461.0 L567.2,461.3 L570.0,461.7 L572.7,462.0 L575.4,462.3 L578.1,462.6 L580.8,462.9 L583.5,463.2 L586.2,463.5 L589.0,463.7 L591.7,464.0 L594.4,464.3 L597.1,464.5 L599.8,464.8 L602.5,465.0 L605.3,465.2 L608.0,465.5 L610.7,465.7 L613.4,465.9 L616.1,466.1 L618.8,466.3 L621.5,466.5 L624.3,466.7 L627.0,466.9 L629.7,467.1 L632.4,467.3 L635.1,467.4 L637.8,467.6 L640.6,467.8 L643.3,468.0 L646.0,468.1 L648.7,468.3 L651.4,468.4 L654.1,468.6 L656.8,468.7 L659.6,468.9 L662.3,469.0 L665.0,469.1 L667.7,469.3 L670.4,469.4 L673.1,469.5 L675.9,469.6 L678.6,469.7 L681.3,469.9 L684.0,470.0 L686.7,470.1 L689.4,470.2 L692.1,470.3 L694.9,470.4 L697.6,470.5 L700.3,470.6 L703.0,470.7 L705.7,470.8 L708.4,470.9 L711.1,471.0 L713.9,471.0 L716.6,471.1 L719.3,471.2 L722.0,471.3 L724.7,471.4 L727.4,471.4 L730.2,471.5 L732.9,471.6 L735.6,471.6 L738.3,471.7 L741.0,471.8 L743.7,471.8 L746.4,471.9 L749.2,472.0 L751.9,472.0 L754.6,472.1 L757.3,472.1 L760.0,472.2 L762.7,472.2 L765.5,472.3 L768.2,472.3 L770.9,472.4 L773.6,472.4 L776.3,472.5 L779.0,472.5 L781.7,472.6 L784.5,472.6 L787.2,472.7 L789.9,472.7 L792.6,472.7 L795.3,472.8 L798.0,472.8 L800.8,472.8"/>
</g>
<path d="M97.5,495.1 v-1.8 M97.5,47.1 v1.8 M272.7,495.1 v-1.8 M272.7,47.1 v1.8 M447.9,495.1 v-1.8 M447.9,47.1 v1.8 M623.1,495.1 v-1.8 M623.1,47.1 v1.8 M798.3,495.1 v-1.8 M798.3,47.1 v1.8 M85.0,474.2 h1.8 M811.5,474.2 h-1.8 M85.0,404.4 h1.8 M811.5,404.4 h-1.8 M85.0,334.6 h1.8 M811.5,334.6 h-1.8 M85.0,264.8 h1.8 M811.5,264.8 h-1.8 M85.0,195.0 h1.8 M811.5,195.0 h-1.8 M85.0,125.2 h1.8 M811.5,125.2 h-1.8 M85.0,55.4 h1.8 M811.5,55.4 h-1.8" fill="none" stroke="#000" stroke-width="0.8" stroke-opacity="0.5"/>
<g fill="#000">
<rect x="82.40" y="45.00" width="2.60" height="452.80"/>
<rect x="811.50" y="45.00" width="2.50" height="452.80"/>
<rect x="82.40" y="45.00" width="731.60" height="2.10"/>
<rect x="82.40" y="495.10" width="731.60" height="2.70"/>
</g>
<g fill="none" stroke="#fdfb36" stroke-width="4.9" stroke-linejoin="round">
<path d="M1043.7,417.1 L1045.0,417.3 L1047.7,417.9 L1050.4,418.5 L1053.1,419.1 L1055.8,419.7 L1058.6,420.3 L1061.3,420.9 L1064.0,421.5 L1066.7,422.1 L1069.4,422.6 L1072.1,423.2 L1074.8,423.8 L1077.5,424.4 L1080.2,424.9 L1082.9,425.5 L1085.7,426.1 L1088.4,426.6 L1091.1,427.2 L1093.8,427.8 L1096.5,428.3 L1099.2,428.9 L1101.9,429.4 L1104.6,430.0 L1107.3,430.5 L1110.1,431.1 L1112.8,431.6 L1115.5,432.1 L1118.2,432.7 L1120.9,433.2 L1123.6,433.7 L1126.3,434.2 L1129.0,434.8 L1131.7,435.3 L1134.4,435.8 L1137.2,436.3 L1139.9,436.8 L1142.6,437.3 L1145.3,437.8 L1148.0,438.3 L1150.7,438.8 L1153.4,439.3 L1156.1,439.7 L1158.8,440.2 L1161.5,440.7 L1164.3,441.2 L1167.0,441.6 L1169.7,442.1 L1172.4,442.5 L1175.1,443.0 L1177.8,443.4 L1180.5,443.9 L1183.2,444.3 L1185.9,444.8 L1188.7,445.2 L1191.4,445.6 L1194.1,446.1 L1196.8,446.5 L1199.5,446.9 L1202.2,447.3 L1204.9,447.7 L1207.6,448.1 L1210.3,448.5 L1213.0,448.9 L1215.8,449.3 L1218.5,449.7 L1221.2,450.1 L1223.9,450.5 L1226.6,450.9 L1229.3,451.2 L1232.0,451.6 L1234.7,452.0 L1237.4,452.3 L1240.2,452.7 L1242.9,453.0 L1245.6,453.4 L1248.3,453.7 L1251.0,454.1 L1253.7,454.4 L1256.4,454.7 L1259.1,455.1 L1261.8,455.4 L1264.5,455.7 L1267.3,456.0 L1270.0,456.4 L1272.7,456.7 L1275.4,457.0 L1278.1,457.3 L1280.8,457.6 L1283.5,457.9 L1286.2,458.2 L1288.9,458.5 L1291.6,458.7 L1294.4,459.0 L1297.1,459.3 L1299.8,459.6 L1302.5,459.8 L1305.2,460.1 L1307.9,460.4 L1310.6,460.6 L1313.3,460.9 L1316.0,461.1 L1318.8,461.4 L1321.5,461.6 L1324.2,461.9 L1326.9,462.1 L1329.6,462.4 L1332.3,462.6 L1335.0,462.8 L1337.7,463.1 L1340.4,463.3 L1343.1,463.5 L1345.9,463.7 L1348.6,463.9 L1351.3,464.1 L1354.0,464.4 L1356.7,464.6 L1359.4,464.8 L1362.1,465.0 L1364.8,465.2 L1367.5,465.4 L1370.3,465.5 L1373.0,465.7 L1375.7,465.9 L1378.4,466.1 L1381.1,466.3 L1383.8,466.5 L1386.5,466.6 L1389.2,466.8 L1391.9,467.0 L1394.6,467.2 L1397.4,467.3 L1400.1,467.5 L1402.8,467.6 L1405.5,467.8 L1408.2,468.0 L1410.9,468.1 L1413.6,468.3 L1416.3,468.4 L1419.0,468.6 L1421.7,468.7 L1424.5,468.8 L1427.2,469.0 L1429.9,469.1 L1432.6,469.3 L1435.3,469.4 L1438.0,469.5 L1440.7,469.6 L1443.4,469.8 L1446.1,469.9 L1448.9,470.0 L1451.6,470.1 L1454.3,470.3 L1457.0,470.4 L1459.7,470.5 L1462.4,470.6 L1465.1,470.7 L1467.8,470.8 L1470.5,470.9 L1473.2,471.1 L1476.0,471.2 L1478.7,471.3 L1481.4,471.4 L1484.1,471.5 L1486.8,471.6 L1489.5,471.7 L1492.2,471.8 L1494.9,471.9 L1497.6,472.0 L1500.4,472.0 L1503.1,472.1 L1505.8,472.2 L1508.5,472.3 L1511.2,472.4 L1513.9,472.5 L1516.6,472.6 L1519.3,472.6 L1522.0,472.7 L1524.7,472.8 L1527.5,472.9 L1530.2,473.0 L1532.9,473.0 L1535.6,473.1 L1538.3,473.2 L1541.0,473.3 L1543.7,473.3 L1546.4,473.4 L1549.1,473.5 L1551.8,473.5 L1554.6,473.6 L1557.3,473.7 L1560.0,473.7 L1562.7,473.8 L1565.4,473.9 L1568.1,473.9 L1570.8,474.0 L1573.5,474.1 L1576.2,474.1 L1579.0,474.2 L1581.7,474.2 L1584.4,474.3 L1587.1,474.3 L1589.8,474.4 L1592.5,474.5 L1595.2,474.5 L1597.9,474.6 L1600.6,474.6 L1603.3,474.7 L1606.1,474.7 L1608.8,474.8 L1611.5,474.8 L1614.2,474.9 L1616.9,474.9 L1619.6,475.0 L1622.3,475.0 L1625.0,475.1 L1627.7,475.1 L1630.5,475.1 L1633.2,475.2 L1635.9,475.2 L1638.6,475.3 L1641.3,475.3 L1644.0,475.4 L1646.7,475.4 L1649.4,475.4 L1652.1,475.5 L1654.8,475.5 L1657.6,475.6 L1660.3,475.6 L1663.0,475.6 L1665.7,475.7 L1668.4,475.7 L1671.1,475.7 L1673.8,475.8 L1676.5,475.8 L1679.2,475.9 L1681.9,475.9 L1684.7,475.9 L1687.4,476.0 L1690.1,476.0 L1692.8,476.0 L1695.5,476.1 L1698.2,476.1 L1700.9,476.1 L1703.6,476.1 L1706.3,476.2 L1709.1,476.2 L1711.8,476.2 L1714.5,476.3 L1717.2,476.3 L1719.9,476.3 L1722.6,476.4 L1725.3,476.4 L1728.0,476.4 L1730.7,476.4 L1733.4,476.5 L1736.2,476.5 L1738.9,476.5 L1741.6,476.5 L1744.3,476.6 L1747.0,476.6 L1751.2,476.6"/>
<path d="M1044.3,208.5 L1045.0,209.5 L1047.7,213.5 L1050.4,217.4 L1053.1,221.2 L1055.8,225.0 L1058.6,228.7 L1061.3,232.4 L1064.0,236.0 L1066.7,239.5 L1069.4,243.1 L1072.1,246.5 L1074.8,249.9 L1077.5,253.3 L1080.2,256.6 L1082.9,259.9 L1085.7,263.1 L1088.4,266.3 L1091.1,269.4 L1093.8,272.5 L1096.5,275.6 L1099.2,278.6 L1101.9,281.5 L1104.6,284.4 L1107.3,287.3 L1110.1,290.2 L1112.8,293.0 L1115.5,295.7 L1118.2,298.4 L1120.9,301.1 L1123.6,303.8 L1126.3,306.4 L1129.0,309.0 L1131.7,311.5 L1134.4,314.0 L1137.2,316.5 L1139.9,318.9 L1142.6,321.3 L1145.3,323.7 L1148.0,326.0 L1150.7,328.3 L1153.4,330.6 L1156.1,332.8 L1158.8,335.0 L1161.5,337.2 L1164.3,339.4 L1167.0,341.5 L1169.7,343.6 L1172.4,345.6 L1175.1,347.7 L1177.8,349.7 L1180.5,351.6 L1183.2,353.6 L1185.9,355.5 L1188.7,357.4 L1191.4,359.3 L1194.1,361.1 L1196.8,362.9 L1199.5,364.7 L1202.2,366.5 L1204.9,368.2 L1207.6,370.0 L1210.3,371.7 L1213.0,373.3 L1215.8,375.0 L1218.5,376.6 L1221.2,378.2 L1223.9,379.8 L1226.6,381.4 L1229.3,382.9 L1232.0,384.4 L1234.7,385.9 L1237.4,387.4 L1240.2,388.8 L1242.9,390.3 L1245.6,391.7 L1248.3,393.1 L1251.0,394.5 L1253.7,395.8 L1256.4,397.1 L1259.1,398.5 L1261.8,399.8 L1264.5,401.0 L1267.3,402.3 L1270.0,403.6 L1272.7,404.8 L1275.4,406.0 L1278.1,407.2 L1280.8,408.4 L1283.5,409.5 L1286.2,410.7 L1288.9,411.8 L1291.6,412.9 L1294.4,414.0 L1297.1,415.1 L1299.8,416.1 L1302.5,417.2 L1305.2,418.2 L1307.9,419.2 L1310.6,420.2 L1313.3,421.2 L1316.0,422.2 L1318.8,423.2 L1321.5,424.1 L1324.2,425.0 L1326.9,426.0 L1329.6,426.9 L1332.3,427.8 L1335.0,428.6 L1337.7,429.5 L1340.4,430.3 L1343.1,431.2 L1345.9,432.0 L1348.6,432.8 L1351.3,433.6 L1354.0,434.4 L1356.7,435.2 L1359.4,436.0 L1362.1,436.7 L1364.8,437.5 L1367.5,438.2 L1370.3,438.9 L1373.0,439.6 L1375.7,440.3 L1378.4,441.0 L1381.1,441.7 L1383.8,442.4 L1386.5,443.0 L1389.2,443.7 L1391.9,444.3 L1394.6,445.0 L1397.4,445.6 L1400.1,446.2 L1402.8,446.8 L1405.5,447.4 L1408.2,447.9 L1410.9,448.5 L1413.6,449.1 L1416.3,449.6 L1419.0,450.2 L1421.7,450.7 L1424.5,451.2 L1427.2,451.8 L1429.9,452.3 L1432.6,452.8 L1435.3,453.3 L1438.0,453.8 L1440.7,454.2 L1443.4,454.7 L1446.1,455.2 L1448.9,455.6 L1451.6,456.1 L1454.3,456.5 L1457.0,456.9 L1459.7,457.4 L1462.4,457.8 L1465.1,458.2 L1467.8,458.6 L1470.5,459.0 L1473.2,459.4 L1476.0,459.8 L1478.7,460.2 L1481.4,460.5 L1484.1,460.9 L1486.8,461.3 L1489.5,461.6 L1492.2,462.0 L1494.9,462.3 L1497.6,462.6 L1500.4,463.0 L1503.1,463.3 L1505.8,463.6 L1508.5,463.9 L1511.2,464.2 L1513.9,464.5 L1516.6,464.8 L1519.3,465.1 L1522.0,465.4 L1524.7,465.7 L1527.5,466.0 L1530.2,466.2 L1532.9,466.5 L1535.6,466.8 L1538.3,467.0 L1541.0,467.3 L1543.7,467.5 L1546.4,467.8 L1549.1,468.0 L1551.8,468.2 L1554.6,468.5 L1557.3,468.7 L1560.0,468.9 L1562.7,469.1 L1565.4,469.3 L1568.1,469.5 L1570.8,469.7 L1573.5,469.9 L1576.2,470.1 L1579.0,470.3 L1581.7,470.5 L1584.4,470.7 L1587.1,470.9 L1589.8,471.0 L1592.5,471.2 L1595.2,471.4 L1597.9,471.6 L1600.6,471.7 L1603.3,471.9 L1606.1,472.0 L1608.8,472.2 L1611.5,472.3 L1614.2,472.5 L1616.9,472.6 L1619.6,472.8 L1622.3,472.9 L1625.0,473.0 L1627.7,473.2 L1630.5,473.3 L1633.2,473.4 L1635.9,473.5 L1638.6,473.7 L1641.3,473.8 L1644.0,473.9 L1646.7,474.0 L1649.4,474.1 L1652.1,474.2 L1654.8,474.3 L1657.6,474.4 L1660.3,474.5 L1663.0,474.6 L1665.7,474.7 L1668.4,474.8 L1671.1,474.9 L1673.8,475.0 L1676.5,475.1 L1679.2,475.2 L1681.9,475.2 L1684.7,475.3 L1687.4,475.4 L1690.1,475.5 L1692.8,475.5 L1695.5,475.6 L1698.2,475.7 L1700.9,475.7 L1703.6,475.8 L1706.3,475.9 L1709.1,475.9 L1711.8,476.0 L1714.5,476.0 L1717.2,476.1 L1719.9,476.2 L1722.6,476.2 L1725.3,476.3 L1728.0,476.3 L1730.7,476.3 L1733.4,476.4 L1736.2,476.4 L1738.9,476.5 L1741.6,476.5 L1744.3,476.6 L1747.0,476.6 L1751.2,476.6"/>
<path d="M1060.0,67.0 L1061.3,70.3 L1064.0,76.9 L1066.7,83.4 L1069.4,89.9 L1072.1,96.2 L1074.8,102.5 L1077.5,108.6 L1080.2,114.7 L1082.9,120.7 L1085.7,126.5 L1088.4,132.3 L1091.1,138.0 L1093.8,143.7 L1096.5,149.2 L1099.2,154.6 L1101.9,160.0 L1104.6,165.3 L1107.3,170.5 L1110.1,175.6 L1112.8,180.6 L1115.5,185.6 L1118.2,190.5 L1120.9,195.3 L1123.6,200.1 L1126.3,204.7 L1129.0,209.3 L1131.7,213.9 L1134.4,218.3 L1137.2,222.7 L1139.9,227.0 L1142.6,231.3 L1145.3,235.5 L1148.0,239.6 L1150.7,243.6 L1153.4,247.6 L1156.1,251.6 L1158.8,255.4 L1161.5,259.3 L1164.3,263.0 L1167.0,266.7 L1169.7,270.3 L1172.4,273.9 L1175.1,277.4 L1177.8,280.9 L1180.5,284.3 L1183.2,287.7 L1185.9,291.0 L1188.7,294.2 L1191.4,297.4 L1194.1,300.6 L1196.8,303.7 L1199.5,306.7 L1202.2,309.7 L1204.9,312.7 L1207.6,315.6 L1210.3,318.5 L1213.0,321.3 L1215.8,324.1 L1218.5,326.8 L1221.2,329.5 L1223.9,332.1 L1226.6,334.7 L1229.3,337.3 L1232.0,339.8 L1234.7,342.3 L1237.4,344.7 L1240.2,347.1 L1242.9,349.4 L1245.6,351.8 L1248.3,354.0 L1251.0,356.3 L1253.7,358.5 L1256.4,360.7 L1259.1,362.8 L1261.8,364.9 L1264.5,367.0 L1267.3,369.0 L1270.0,371.0 L1272.7,373.0 L1275.4,374.9 L1278.1,376.8 L1280.8,378.6 L1283.5,380.5 L1286.2,382.3 L1288.9,384.1 L1291.6,385.8 L1294.4,387.5 L1297.1,389.2 L1299.8,390.9 L1302.5,392.5 L1305.2,394.1 L1307.9,395.7 L1310.6,397.2 L1313.3,398.8 L1316.0,400.3 L1318.8,401.7 L1321.5,403.2 L1324.2,404.6 L1326.9,406.0 L1329.6,407.4 L1332.3,408.7 L1335.0,410.1 L1337.7,411.4 L1340.4,412.6 L1343.1,413.9 L1345.9,415.1 L1348.6,416.4 L1351.3,417.5 L1354.0,418.7 L1356.7,419.9 L1359.4,421.0 L1362.1,422.1 L1364.8,423.2 L1367.5,424.3 L1370.3,425.3 L1373.0,426.4 L1375.7,427.4 L1378.4,428.4 L1381.1,429.4 L1383.8,430.4 L1386.5,431.3 L1389.2,432.2 L1391.9,433.2 L1394.6,434.1 L1397.4,434.9 L1400.1,435.8 L1402.8,436.7 L1405.5,437.5 L1408.2,438.3 L1410.9,439.1 L1413.6,439.9 L1416.3,440.7 L1419.0,441.4 L1421.7,442.2 L1424.5,442.9 L1427.2,443.7 L1429.9,444.4 L1432.6,445.1 L1435.3,445.7 L1438.0,446.4 L1440.7,447.1 L1443.4,447.7 L1446.1,448.4 L1448.9,449.0 L1451.6,449.6 L1454.3,450.2 L1457.0,450.8 L1459.7,451.4 L1462.4,451.9 L1465.1,452.5 L1467.8,453.0 L1470.5,453.6 L1473.2,454.1 L1476.0,454.6 L1478.7,455.1 L1481.4,455.6 L1484.1,456.1 L1486.8,456.6 L1489.5,457.1 L1492.2,457.5 L1494.9,458.0 L1497.6,458.4 L1500.4,458.8 L1503.1,459.3 L1505.8,459.7 L1508.5,460.1 L1511.2,460.5 L1513.9,460.9 L1516.6,461.3 L1519.3,461.7 L1522.0,462.0 L1524.7,462.4 L1527.5,462.8 L1530.2,463.1 L1532.9,463.5 L1535.6,463.8 L1538.3,464.1 L1541.0,464.5 L1543.7,464.8 L1546.4,465.1 L1549.1,465.4 L1551.8,465.7 L1554.6,466.0 L1557.3,466.3 L1560.0,466.6 L1562.7,466.8 L1565.4,467.1 L1568.1,467.4 L1570.8,467.6 L1573.5,467.9 L1576.2,468.1 L1579.0,468.4 L1581.7,468.6 L1584.4,468.9 L1587.1,469.1 L1589.8,469.3 L1592.5,469.5 L1595.2,469.8 L1597.9,470.0 L1600.6,470.2 L1603.3,470.4 L1606.1,470.6 L1608.8,470.8 L1611.5,471.0 L1614.2,471.2 L1616.9,471.3 L1619.6,471.5 L1622.3,471.7 L1625.0,471.9 L1627.7,472.0 L1630.5,472.2 L1633.2,472.4 L1635.9,472.5 L1638.6,472.7 L1641.3,472.8 L1644.0,473.0 L1646.7,473.1 L1649.4,473.3 L1652.1,473.4 L1654.8,473.5 L1657.6,473.7 L1660.3,473.8 L1663.0,473.9 L1665.7,474.0 L1668.4,474.2 L1671.1,474.3 L1673.8,474.4 L1676.5,474.5 L1679.2,474.6 L1681.9,474.7 L1684.7,474.8 L1687.4,474.9 L1690.1,475.0 L1692.8,475.1 L1695.5,475.2 L1698.2,475.3 L1700.9,475.4 L1703.6,475.5 L1706.3,475.6 L1709.1,475.6 L1711.8,475.7 L1714.5,475.8 L1717.2,475.9 L1719.9,476.0 L1722.6,476.0 L1725.3,476.1 L1728.0,476.2 L1730.7,476.2 L1733.4,476.3 L1736.2,476.4 L1738.9,476.4 L1741.6,476.5 L1744.3,476.5 L1747.0,476.6 L1751.2,476.6"/>
<path d="M1105.5,67.0 L1107.3,72.1 L1110.1,79.6 L1112.8,87.0 L1115.5,94.2 L1118.2,101.4 L1120.9,108.3 L1123.6,115.2 L1126.3,121.9 L1129.0,128.5 L1131.7,135.0 L1134.4,141.3 L1137.2,147.6 L1139.9,153.7 L1142.6,159.7 L1145.3,165.6 L1148.0,171.4 L1150.7,177.1 L1153.4,182.6 L1156.1,188.1 L1158.8,193.5 L1161.5,198.8 L1164.3,204.0 L1167.0,209.1 L1169.7,214.1 L1172.4,219.0 L1175.1,223.8 L1177.8,228.5 L1180.5,233.2 L1183.2,237.7 L1185.9,242.2 L1188.7,246.6 L1191.4,251.0 L1194.1,255.2 L1196.8,259.4 L1199.5,263.5 L1202.2,267.5 L1204.9,271.4 L1207.6,275.3 L1210.3,279.1 L1213.0,282.9 L1215.8,286.5 L1218.5,290.2 L1221.2,293.7 L1223.9,297.2 L1226.6,300.6 L1229.3,304.0 L1232.0,307.3 L1234.7,310.5 L1237.4,313.7 L1240.2,316.8 L1242.9,319.9 L1245.6,322.9 L1248.3,325.9 L1251.0,328.8 L1253.7,331.6 L1256.4,334.4 L1259.1,337.2 L1261.8,339.9 L1264.5,342.6 L1267.3,345.2 L1270.0,347.7 L1272.7,350.3 L1275.4,352.7 L1278.1,355.2 L1280.8,357.6 L1283.5,359.9 L1286.2,362.2 L1288.9,364.5 L1291.6,366.7 L1294.4,368.9 L1297.1,371.0 L1299.8,373.1 L1302.5,375.2 L1305.2,377.2 L1307.9,379.2 L1310.6,381.2 L1313.3,383.1 L1316.0,385.0 L1318.8,386.9 L1321.5,388.7 L1324.2,390.5 L1326.9,392.2 L1329.6,394.0 L1332.3,395.7 L1335.0,397.3 L1337.7,399.0 L1340.4,400.6 L1343.1,402.1 L1345.9,403.7 L1348.6,405.2 L1351.3,406.7 L1354.0,408.2 L1356.7,409.6 L1359.4,411.0 L1362.1,412.4 L1364.8,413.8 L1367.5,415.1 L1370.3,416.4 L1373.0,417.7 L1375.7,419.0 L1378.4,420.2 L1381.1,421.4 L1383.8,422.6 L1386.5,423.8 L1389.2,424.9 L1391.9,426.1 L1394.6,427.2 L1397.4,428.3 L1400.1,429.3 L1402.8,430.4 L1405.5,431.4 L1408.2,432.4 L1410.9,433.4 L1413.6,434.4 L1416.3,435.3 L1419.0,436.3 L1421.7,437.2 L1424.5,438.1 L1427.2,439.0 L1429.9,439.8 L1432.6,440.7 L1435.3,441.5 L1438.0,442.3 L1440.7,443.1 L1443.4,443.9 L1446.1,444.7 L1448.9,445.4 L1451.6,446.2 L1454.3,446.9 L1457.0,447.6 L1459.7,448.3 L1462.4,449.0 L1465.1,449.7 L1467.8,450.3 L1470.5,451.0 L1473.2,451.6 L1476.0,452.2 L1478.7,452.8 L1481.4,453.4 L1484.1,454.0 L1486.8,454.6 L1489.5,455.2 L1492.2,455.7 L1494.9,456.2 L1497.6,456.8 L1500.4,457.3 L1503.1,457.8 L1505.8,458.3 L1508.5,458.8 L1511.2,459.3 L1513.9,459.7 L1516.6,460.2 L1519.3,460.6 L1522.0,461.1 L1524.7,461.5 L1527.5,461.9 L1530.2,462.3 L1532.9,462.7 L1535.6,463.1 L1538.3,463.5 L1541.0,463.9 L1543.7,464.2 L1546.4,464.6 L1549.1,464.9 L1551.8,465.3 L1554.6,465.6 L1557.3,466.0 L1560.0,466.3 L1562.7,466.6 L1565.4,466.9 L1568.1,467.2 L1570.8,467.5 L1573.5,467.8 L1576.2,468.1 L1579.0,468.3 L1581.7,468.6 L1584.4,468.9 L1587.1,469.1 L1589.8,469.4 L1592.5,469.6 L1595.2,469.9 L1597.9,470.1 L1600.6,470.3 L1603.3,470.5 L1606.1,470.8 L1608.8,471.0 L1611.5,471.2 L1614.2,471.4 L1616.9,471.6 L1619.6,471.8 L1622.3,471.9 L1625.0,472.1 L1627.7,472.3 L1630.5,472.5 L1633.2,472.6 L1635.9,472.8 L1638.6,473.0 L1641.3,473.1 L1644.0,473.3 L1646.7,473.4 L1649.4,473.6 L1652.1,473.7 L1654.8,473.8 L1657.6,474.0 L1660.3,474.1 L1663.0,474.2 L1665.7,474.3 L1668.4,474.5 L1671.1,474.6 L1673.8,474.7 L1676.5,474.8 L1679.2,474.9 L1681.9,475.0 L1684.7,475.1 L1687.4,475.2 L1690.1,475.3 L1692.8,475.4 L1695.5,475.4 L1698.2,475.5 L1700.9,475.6 L1703.6,475.7 L1706.3,475.8 L1709.1,475.8 L1711.8,475.9 L1714.5,476.0 L1717.2,476.0 L1719.9,476.1 L1722.6,476.2 L1725.3,476.2 L1728.0,476.3 L1730.7,476.3 L1733.4,476.4 L1736.2,476.4 L1738.9,476.5 L1741.6,476.5 L1744.3,476.6 L1747.0,476.6 L1751.2,476.6"/>
<path d="M1132.3,67.0 L1133.6,71.4 L1136.4,79.8 L1139.1,88.0 L1141.8,96.0 L1144.5,103.8 L1147.2,111.5 L1149.9,119.0 L1152.6,126.3 L1155.3,133.4 L1158.0,140.5 L1160.7,147.3 L1163.5,154.0 L1166.2,160.6 L1168.9,167.0 L1171.6,173.3 L1174.3,179.4 L1177.0,185.4 L1179.7,191.3 L1182.4,197.1 L1185.1,202.7 L1187.9,208.2 L1190.6,213.6 L1193.3,218.9 L1196.0,224.1 L1198.7,229.2 L1201.4,234.1 L1204.1,239.0 L1206.8,243.8 L1209.5,248.4 L1212.2,253.0 L1215.0,257.5 L1217.7,261.9 L1220.4,266.2 L1223.1,270.4 L1225.8,274.5 L1228.5,278.6 L1231.2,282.6 L1233.9,286.5 L1236.6,290.3 L1239.4,294.0 L1242.1,297.7 L1244.8,301.3 L1247.5,304.8 L1250.2,308.2 L1252.9,311.6 L1255.6,315.0 L1258.3,318.2 L1261.0,321.4 L1263.7,324.5 L1266.5,327.6 L1269.2,330.6 L1271.9,333.6 L1274.6,336.5 L1277.3,339.3 L1280.0,342.1 L1282.7,344.9 L1285.4,347.6 L1288.1,350.2 L1290.8,352.8 L1293.6,355.3 L1296.3,357.8 L1299.0,360.3 L1301.7,362.7 L1304.4,365.0 L1307.1,367.3 L1309.8,369.6 L1312.5,371.8 L1315.2,374.0 L1318.0,376.1 L1320.7,378.2 L1323.4,380.3 L1326.1,382.3 L1328.8,384.3 L1331.5,386.3 L1334.2,388.2 L1336.9,390.1 L1339.6,391.9 L1342.3,393.7 L1345.1,395.5 L1347.8,397.2 L1350.5,398.9 L1353.2,400.6 L1355.9,402.3 L1358.6,403.9 L1361.3,405.5 L1364.0,407.0 L1366.7,408.6 L1369.5,410.1 L1372.2,411.5 L1374.9,413.0 L1377.6,414.4 L1380.3,415.8 L1383.0,417.2 L1385.7,418.5 L1388.4,419.8 L1391.1,421.1 L1393.8,422.4 L1396.6,423.6 L1399.3,424.8 L1402.0,426.0 L1404.7,427.2 L1407.4,428.4 L1410.1,429.5 L1412.8,430.6 L1415.5,431.7 L1418.2,432.8 L1420.9,433.8 L1423.7,434.8 L1426.4,435.8 L1429.1,436.8 L1431.8,437.8 L1434.5,438.7 L1437.2,439.7 L1439.9,440.6 L1442.6,441.5 L1445.3,442.4 L1448.1,443.2 L1450.8,444.1 L1453.5,444.9 L1456.2,445.7 L1458.9,446.5 L1461.6,447.3 L1464.3,448.0 L1467.0,448.8 L1469.7,449.5 L1472.4,450.2 L1475.2,450.9 L1477.9,451.6 L1480.6,452.3 L1483.3,453.0 L1486.0,453.6 L1488.7,454.2 L1491.4,454.8 L1494.1,455.5 L1496.8,456.0 L1499.6,456.6 L1502.3,457.2 L1505.0,457.7 L1507.7,458.3 L1510.4,458.8 L1513.1,459.3 L1515.8,459.9 L1518.5,460.3 L1521.2,460.8 L1523.9,461.3 L1526.7,461.8 L1529.4,462.2 L1532.1,462.7 L1534.8,463.1 L1537.5,463.5 L1540.2,463.9 L1542.9,464.3 L1545.6,464.7 L1548.3,465.1 L1551.0,465.5 L1553.8,465.9 L1556.5,466.2 L1559.2,466.6 L1561.9,466.9 L1564.6,467.2 L1567.3,467.6 L1570.0,467.9 L1572.7,468.2 L1575.4,468.5 L1578.2,468.8 L1580.9,469.1 L1583.6,469.3 L1586.3,469.6 L1589.0,469.9 L1591.7,470.1 L1594.4,470.4 L1597.1,470.6 L1599.8,470.9 L1602.5,471.1 L1605.3,471.3 L1608.0,471.5 L1610.7,471.7 L1613.4,471.9 L1616.1,472.1 L1618.8,472.3 L1621.5,472.5 L1624.2,472.7 L1626.9,472.9 L1629.7,473.0 L1632.4,473.2 L1635.1,473.3 L1637.8,473.5 L1640.5,473.6 L1643.2,473.8 L1645.9,473.9 L1648.6,474.1 L1651.3,474.2 L1654.0,474.3 L1656.8,474.4 L1659.5,474.6 L1662.2,474.7 L1664.9,474.8 L1667.6,474.9 L1670.3,475.0 L1673.0,475.1 L1675.7,475.2 L1678.4,475.3 L1681.1,475.4 L1683.9,475.4 L1686.6,475.5 L1689.3,475.6 L1692.0,475.7 L1694.7,475.7 L1697.4,475.8 L1700.1,475.9 L1702.8,475.9 L1705.5,476.0 L1708.3,476.0 L1711.0,476.1 L1713.7,476.2 L1716.4,476.2 L1719.1,476.2 L1721.8,476.3 L1724.5,476.3 L1727.2,476.4 L1729.9,476.4 L1732.6,476.4 L1735.4,476.5 L1738.1,476.5 L1740.8,476.5 L1743.5,476.6 L1746.2,476.6 L1751.2,476.6"/>
</g>
<g fill="none" stroke="#050508" stroke-width="4.3" stroke-dasharray="12.8 15.7 10.6 15.7 10.6 15.7 10.6 15.7 10.6 15.7 10.6 15.7 10.6 15.7 10.6 15.7 10.6 15.7 10.6 15.7 10.6 15.7 10.6 15.7 10.6 15.7 10.6 15.7 10.6 15.7 10.6 15.7 10.6 15.7 10.6 15.7 10.6 15.7 10.6 15.7 10.6 15.7 10.6 15.7 10.6 15.7 10.6 15.7 10.6 15.7 10.6 15.7 10.6 15.7 10.6 15.7 10.6 15.7 10.6 15.7 10.6 15.7 10.6 15.7 10.6 15.7 10.6 15.7 10.6 15.7 10.6 15.7 10.6 15.7 10.6 15.7 10.6 15.7 10.6 15.7 10.6 15.7 10.6 15.7 10.6 15.7 10.6 15.7 10.6 15.7" stroke-linejoin="round">
<path d="M1043.7,418.2 L1045.0,418.6 L1047.7,419.3 L1050.4,420.1 L1053.1,420.8 L1055.8,421.5 L1058.6,422.2 L1061.3,422.9 L1064.0,423.6 L1066.7,424.3 L1069.4,425.0 L1072.1,425.6 L1074.8,426.3 L1077.5,426.9 L1080.2,427.6 L1082.9,428.2 L1085.7,428.8 L1088.4,429.5 L1091.1,430.1 L1093.8,430.7 L1096.5,431.3 L1099.2,431.9 L1101.9,432.4 L1104.6,433.0 L1107.3,433.6 L1110.1,434.2 L1112.8,434.7 L1115.5,435.3 L1118.2,435.8 L1120.9,436.4 L1123.6,436.9 L1126.3,437.4 L1129.0,437.9 L1131.7,438.4 L1134.4,438.9 L1137.2,439.5 L1139.9,439.9 L1142.6,440.4 L1145.3,440.9 L1148.0,441.4 L1150.7,441.9 L1153.4,442.3 L1156.1,442.8 L1158.8,443.3 L1161.5,443.7 L1164.3,444.2 L1167.0,444.6 L1169.7,445.0 L1172.4,445.5 L1175.1,445.9 L1177.8,446.3 L1180.5,446.7 L1183.2,447.2 L1185.9,447.6 L1188.7,448.0 L1191.4,448.4 L1194.1,448.8 L1196.8,449.2 L1199.5,449.5 L1202.2,449.9 L1204.9,450.3 L1207.6,450.7 L1210.3,451.0 L1213.0,451.4 L1215.8,451.8 L1218.5,452.1 L1221.2,452.5 L1223.9,452.8 L1226.6,453.2 L1229.3,453.5 L1232.0,453.8 L1234.7,454.2 L1237.4,454.5 L1240.2,454.8 L1242.9,455.1 L1245.6,455.5 L1248.3,455.8 L1251.0,456.1 L1253.7,456.4 L1256.4,456.7 L1259.1,457.0 L1261.8,457.3 L1264.5,457.6 L1267.3,457.9 L1270.0,458.2 L1272.7,458.4 L1275.4,458.7 L1278.1,459.0 L1280.8,459.3 L1283.5,459.5 L1286.2,459.8 L1288.9,460.1 L1291.6,460.3 L1294.4,460.6 L1297.1,460.8 L1299.8,461.1 L1302.5,461.3 L1305.2,461.6 L1307.9,461.8 L1310.6,462.1 L1313.3,462.3 L1316.0,462.5 L1318.8,462.8 L1321.5,463.0 L1324.2,463.2 L1326.9,463.4 L1329.6,463.6 L1332.3,463.9 L1335.0,464.1 L1337.7,464.3 L1340.4,464.5 L1343.1,464.7 L1345.9,464.9 L1348.6,465.1 L1351.3,465.3 L1354.0,465.5 L1356.7,465.7 L1359.4,465.9 L1362.1,466.1 L1364.8,466.2 L1367.5,466.4 L1370.3,466.6 L1373.0,466.8 L1375.7,467.0 L1378.4,467.1 L1381.1,467.3 L1383.8,467.5 L1386.5,467.6 L1389.2,467.8 L1391.9,468.0 L1394.6,468.1 L1397.4,468.3 L1400.1,468.4 L1402.8,468.6 L1405.5,468.7 L1408.2,468.9 L1410.9,469.0 L1413.6,469.2 L1416.3,469.3 L1419.0,469.5 L1421.7,469.6 L1424.5,469.7 L1427.2,469.9 L1429.9,470.0 L1432.6,470.1 L1435.3,470.3 L1438.0,470.4 L1440.7,470.5 L1443.4,470.6 L1446.1,470.8 L1448.9,470.9 L1451.6,471.0 L1454.3,471.1 L1457.0,471.2 L1459.7,471.4 L1462.4,471.5 L1465.1,471.6 L1467.8,471.7 L1470.5,471.8 L1473.2,471.9 L1476.0,472.0 L1478.7,472.1 L1481.4,472.2 L1484.1,472.3 L1486.8,472.4 L1489.5,472.5 L1492.2,472.6 L1494.9,472.7 L1497.6,472.8 L1500.4,472.9 L1503.1,472.9 L1505.8,473.0 L1508.5,473.1 L1511.2,473.2 L1513.9,473.3 L1516.6,473.4 L1519.3,473.4 L1522.0,473.5 L1524.7,473.6 L1527.5,473.7 L1530.2,473.7 L1532.9,473.8 L1535.6,473.9 L1538.3,474.0 L1541.0,474.0 L1543.7,474.1 L1546.4,474.2 L1549.1,474.2 L1551.8,474.3 L1554.6,474.4 L1557.3,474.4 L1560.0,474.5 L1562.7,474.5 L1565.4,474.6 L1568.1,474.7 L1570.8,474.7 L1573.5,474.8 L1576.2,474.8 L1579.0,474.9 L1581.7,474.9 L1584.4,475.0 L1587.1,475.0 L1589.8,475.1 L1592.5,475.1 L1595.2,475.2 L1597.9,475.2 L1600.6,475.3 L1603.3,475.3 L1606.1,475.3 L1608.8,475.4 L1611.5,475.4 L1614.2,475.5 L1616.9,475.5 L1619.6,475.5 L1622.3,475.6 L1625.0,475.6 L1627.7,475.7 L1630.5,475.7 L1633.2,475.7 L1635.9,475.8 L1638.6,475.8 L1641.3,475.8 L1644.0,475.9 L1646.7,475.9 L1649.4,475.9 L1652.1,476.0 L1654.8,476.0 L1657.6,476.0 L1660.3,476.0 L1663.0,476.1 L1665.7,476.1 L1668.4,476.1 L1671.1,476.1 L1673.8,476.2 L1676.5,476.2 L1679.2,476.2 L1681.9,476.2 L1684.7,476.3 L1687.4,476.3 L1690.1,476.3 L1692.8,476.3 L1695.5,476.3 L1698.2,476.4 L1700.9,476.4 L1703.6,476.4 L1706.3,476.4 L1709.1,476.4 L1711.8,476.4 L1714.5,476.5 L1717.2,476.5 L1719.9,476.5 L1722.6,476.5 L1725.3,476.5 L1728.0,476.5 L1730.7,476.5 L1733.4,476.5 L1736.2,476.6 L1738.9,476.6 L1741.6,476.6 L1744.3,476.6 L1747.0,476.6 L1751.2,476.6"/>
<path d="M1044.2,218.2 L1045.0,219.2 L1047.7,222.9 L1050.4,226.6 L1053.1,230.2 L1055.8,233.8 L1058.6,237.3 L1061.3,240.8 L1064.0,244.2 L1066.7,247.7 L1069.4,251.1 L1072.1,254.4 L1074.8,257.7 L1077.5,261.0 L1080.2,264.3 L1082.9,267.5 L1085.7,270.6 L1088.4,273.8 L1091.1,276.9 L1093.8,279.9 L1096.5,282.9 L1099.2,285.9 L1101.9,288.9 L1104.6,291.8 L1107.3,294.7 L1110.1,297.5 L1112.8,300.4 L1115.5,303.1 L1118.2,305.9 L1120.9,308.6 L1123.6,311.3 L1126.3,313.9 L1129.0,316.5 L1131.7,319.1 L1134.4,321.6 L1137.2,324.1 L1139.9,326.6 L1142.6,329.0 L1145.3,331.4 L1148.0,333.8 L1150.7,336.2 L1153.4,338.5 L1156.1,340.8 L1158.8,343.0 L1161.5,345.2 L1164.3,347.4 L1167.0,349.6 L1169.7,351.7 L1172.4,353.8 L1175.1,355.8 L1177.8,357.9 L1180.5,359.9 L1183.2,361.9 L1185.9,363.8 L1188.7,365.7 L1191.4,367.6 L1194.1,369.5 L1196.8,371.3 L1199.5,373.1 L1202.2,374.9 L1204.9,376.7 L1207.6,378.4 L1210.3,380.1 L1213.0,381.8 L1215.8,383.4 L1218.5,385.0 L1221.2,386.6 L1223.9,388.2 L1226.6,389.8 L1229.3,391.3 L1232.0,392.8 L1234.7,394.3 L1237.4,395.7 L1240.2,397.2 L1242.9,398.6 L1245.6,400.0 L1248.3,401.3 L1251.0,402.7 L1253.7,404.0 L1256.4,405.3 L1259.1,406.6 L1261.8,407.8 L1264.5,409.1 L1267.3,410.3 L1270.0,411.5 L1272.7,412.6 L1275.4,413.8 L1278.1,414.9 L1280.8,416.1 L1283.5,417.2 L1286.2,418.2 L1288.9,419.3 L1291.6,420.3 L1294.4,421.4 L1297.1,422.4 L1299.8,423.4 L1302.5,424.4 L1305.2,425.3 L1307.9,426.3 L1310.6,427.2 L1313.3,428.1 L1316.0,429.0 L1318.8,429.9 L1321.5,430.7 L1324.2,431.6 L1326.9,432.4 L1329.6,433.2 L1332.3,434.0 L1335.0,434.8 L1337.7,435.6 L1340.4,436.4 L1343.1,437.1 L1345.9,437.9 L1348.6,438.6 L1351.3,439.3 L1354.0,440.0 L1356.7,440.7 L1359.4,441.4 L1362.1,442.0 L1364.8,442.7 L1367.5,443.3 L1370.3,443.9 L1373.0,444.5 L1375.7,445.2 L1378.4,445.7 L1381.1,446.3 L1383.8,446.9 L1386.5,447.5 L1389.2,448.0 L1391.9,448.6 L1394.6,449.1 L1397.4,449.6 L1400.1,450.1 L1402.8,450.6 L1405.5,451.1 L1408.2,451.6 L1410.9,452.1 L1413.6,452.6 L1416.3,453.0 L1419.0,453.5 L1421.7,453.9 L1424.5,454.4 L1427.2,454.8 L1429.9,455.2 L1432.6,455.6 L1435.3,456.0 L1438.0,456.4 L1440.7,456.8 L1443.4,457.2 L1446.1,457.6 L1448.9,457.9 L1451.6,458.3 L1454.3,458.7 L1457.0,459.0 L1459.7,459.3 L1462.4,459.7 L1465.1,460.0 L1467.8,460.3 L1470.5,460.7 L1473.2,461.0 L1476.0,461.3 L1478.7,461.6 L1481.4,461.9 L1484.1,462.2 L1486.8,462.5 L1489.5,462.7 L1492.2,463.0 L1494.9,463.3 L1497.6,463.6 L1500.4,463.8 L1503.1,464.1 L1505.8,464.3 L1508.5,464.6 L1511.2,464.8 L1513.9,465.1 L1516.6,465.3 L1519.3,465.5 L1522.0,465.8 L1524.7,466.0 L1527.5,466.2 L1530.2,466.4 L1532.9,466.6 L1535.6,466.9 L1538.3,467.1 L1541.0,467.3 L1543.7,467.5 L1546.4,467.7 L1549.1,467.8 L1551.8,468.0 L1554.6,468.2 L1557.3,468.4 L1560.0,468.6 L1562.7,468.8 L1565.4,468.9 L1568.1,469.1 L1570.8,469.3 L1573.5,469.4 L1576.2,469.6 L1579.0,469.8 L1581.7,469.9 L1584.4,470.1 L1587.1,470.2 L1589.8,470.4 L1592.5,470.5 L1595.2,470.7 L1597.9,470.8 L1600.6,471.0 L1603.3,471.1 L1606.1,471.3 L1608.8,471.4 L1611.5,471.5 L1614.2,471.7 L1616.9,471.8 L1619.6,471.9 L1622.3,472.0 L1625.0,472.2 L1627.7,472.3 L1630.5,472.4 L1633.2,472.5 L1635.9,472.7 L1638.6,472.8 L1641.3,472.9 L1644.0,473.0 L1646.7,473.1 L1649.4,473.2 L1652.1,473.3 L1654.8,473.4 L1657.6,473.6 L1660.3,473.7 L1663.0,473.8 L1665.7,473.9 L1668.4,474.0 L1671.1,474.1 L1673.8,474.2 L1676.5,474.3 L1679.2,474.4 L1681.9,474.5 L1684.7,474.6 L1687.4,474.7 L1690.1,474.8 L1692.8,474.9 L1695.5,475.0 L1698.2,475.0 L1700.9,475.1 L1703.6,475.2 L1706.3,475.3 L1709.1,475.4 L1711.8,475.5 L1714.5,475.6 L1717.2,475.7 L1719.9,475.8 L1722.6,475.8 L1725.3,475.9 L1728.0,476.0 L1730.7,476.1 L1733.4,476.2 L1736.2,476.3 L1738.9,476.4 L1741.6,476.4 L1744.3,476.5 L1747.0,476.6 L1751.2,476.6"/>
<path d="M1053.3,67.0 L1055.8,73.5 L1058.6,80.2 L1061.3,86.8 L1064.0,93.4 L1066.7,99.8 L1069.4,106.2 L1072.1,112.5 L1074.8,118.7 L1077.5,124.8 L1080.2,130.8 L1082.9,136.7 L1085.7,142.5 L1088.4,148.3 L1091.1,153.9 L1093.8,159.5 L1096.5,165.0 L1099.2,170.5 L1101.9,175.8 L1104.6,181.1 L1107.3,186.2 L1110.1,191.4 L1112.8,196.4 L1115.5,201.3 L1118.2,206.2 L1120.9,211.0 L1123.6,215.7 L1126.3,220.4 L1129.0,225.0 L1131.7,229.5 L1134.4,233.9 L1137.2,238.3 L1139.9,242.6 L1142.6,246.8 L1145.3,250.9 L1148.0,255.0 L1150.7,259.1 L1153.4,263.0 L1156.1,266.9 L1158.8,270.8 L1161.5,274.5 L1164.3,278.2 L1167.0,281.9 L1169.7,285.5 L1172.4,289.0 L1175.1,292.5 L1177.8,295.9 L1180.5,299.2 L1183.2,302.5 L1185.9,305.8 L1188.7,308.9 L1191.4,312.1 L1194.1,315.1 L1196.8,318.2 L1199.5,321.1 L1202.2,324.1 L1204.9,326.9 L1207.6,329.8 L1210.3,332.5 L1213.0,335.2 L1215.8,337.9 L1218.5,340.5 L1221.2,343.1 L1223.9,345.7 L1226.6,348.2 L1229.3,350.6 L1232.0,353.0 L1234.7,355.4 L1237.4,357.7 L1240.2,360.0 L1242.9,362.2 L1245.6,364.4 L1248.3,366.6 L1251.0,368.7 L1253.7,370.7 L1256.4,372.8 L1259.1,374.8 L1261.8,376.8 L1264.5,378.7 L1267.3,380.6 L1270.0,382.4 L1272.7,384.3 L1275.4,386.1 L1278.1,387.8 L1280.8,389.5 L1283.5,391.2 L1286.2,392.9 L1288.9,394.5 L1291.6,396.1 L1294.4,397.7 L1297.1,399.3 L1299.8,400.8 L1302.5,402.2 L1305.2,403.7 L1307.9,405.1 L1310.6,406.5 L1313.3,407.9 L1316.0,409.3 L1318.8,410.6 L1321.5,411.9 L1324.2,413.2 L1326.9,414.4 L1329.6,415.6 L1332.3,416.8 L1335.0,418.0 L1337.7,419.2 L1340.4,420.3 L1343.1,421.4 L1345.9,422.5 L1348.6,423.6 L1351.3,424.6 L1354.0,425.7 L1356.7,426.7 L1359.4,427.7 L1362.1,428.6 L1364.8,429.6 L1367.5,430.5 L1370.3,431.4 L1373.0,432.3 L1375.7,433.2 L1378.4,434.1 L1381.1,434.9 L1383.8,435.7 L1386.5,436.6 L1389.2,437.4 L1391.9,438.1 L1394.6,438.9 L1397.4,439.7 L1400.1,440.4 L1402.8,441.1 L1405.5,441.8 L1408.2,442.5 L1410.9,443.2 L1413.6,443.9 L1416.3,444.5 L1419.0,445.2 L1421.7,445.8 L1424.5,446.4 L1427.2,447.0 L1429.9,447.6 L1432.6,448.2 L1435.3,448.8 L1438.0,449.3 L1440.7,449.9 L1443.4,450.4 L1446.1,451.0 L1448.9,451.5 L1451.6,452.0 L1454.3,452.5 L1457.0,453.0 L1459.7,453.5 L1462.4,453.9 L1465.1,454.4 L1467.8,454.8 L1470.5,455.3 L1473.2,455.7 L1476.0,456.2 L1478.7,456.6 L1481.4,457.0 L1484.1,457.4 L1486.8,457.8 L1489.5,458.2 L1492.2,458.6 L1494.9,458.9 L1497.6,459.3 L1500.4,459.7 L1503.1,460.0 L1505.8,460.4 L1508.5,460.7 L1511.2,461.0 L1513.9,461.4 L1516.6,461.7 L1519.3,462.0 L1522.0,462.3 L1524.7,462.6 L1527.5,462.9 L1530.2,463.2 L1532.9,463.5 L1535.6,463.8 L1538.3,464.1 L1541.0,464.3 L1543.7,464.6 L1546.4,464.9 L1549.1,465.1 L1551.8,465.4 L1554.6,465.6 L1557.3,465.9 L1560.0,466.1 L1562.7,466.4 L1565.4,466.6 L1568.1,466.8 L1570.8,467.0 L1573.5,467.3 L1576.2,467.5 L1579.0,467.7 L1581.7,467.9 L1584.4,468.1 L1587.1,468.3 L1589.8,468.5 L1592.5,468.7 L1595.2,468.9 L1597.9,469.1 L1600.6,469.3 L1603.3,469.5 L1606.1,469.7 L1608.8,469.8 L1611.5,470.0 L1614.2,470.2 L1616.9,470.4 L1619.6,470.5 L1622.3,470.7 L1625.0,470.9 L1627.7,471.0 L1630.5,471.2 L1633.2,471.4 L1635.9,471.5 L1638.6,471.7 L1641.3,471.8 L1644.0,472.0 L1646.7,472.1 L1649.4,472.3 L1652.1,472.4 L1654.8,472.5 L1657.6,472.7 L1660.3,472.8 L1663.0,473.0 L1665.7,473.1 L1668.4,473.2 L1671.1,473.4 L1673.8,473.5 L1676.5,473.6 L1679.2,473.8 L1681.9,473.9 L1684.7,474.0 L1687.4,474.1 L1690.1,474.3 L1692.8,474.4 L1695.5,474.5 L1698.2,474.6 L1700.9,474.7 L1703.6,474.8 L1706.3,475.0 L1709.1,475.1 L1711.8,475.2 L1714.5,475.3 L1717.2,475.4 L1719.9,475.5 L1722.6,475.6 L1725.3,475.7 L1728.0,475.9 L1730.7,476.0 L1733.4,476.1 L1736.2,476.2 L1738.9,476.3 L1741.6,476.4 L1744.3,476.5 L1747.0,476.6 L1751.2,476.6"/>
<path d="M1097.9,67.0 L1099.2,70.9 L1101.9,78.6 L1104.6,86.2 L1107.3,93.7 L1110.1,101.0 L1112.8,108.2 L1115.5,115.3 L1118.2,122.3 L1120.9,129.1 L1123.6,135.9 L1126.3,142.5 L1129.0,148.9 L1131.7,155.3 L1134.4,161.6 L1137.2,167.7 L1139.9,173.7 L1142.6,179.7 L1145.3,185.5 L1148.0,191.2 L1150.7,196.8 L1153.4,202.3 L1156.1,207.7 L1158.8,213.0 L1161.5,218.2 L1164.3,223.3 L1167.0,228.3 L1169.7,233.3 L1172.4,238.1 L1175.1,242.8 L1177.8,247.5 L1180.5,252.1 L1183.2,256.6 L1185.9,261.0 L1188.7,265.3 L1191.4,269.5 L1194.1,273.7 L1196.8,277.8 L1199.5,281.8 L1202.2,285.7 L1204.9,289.6 L1207.6,293.3 L1210.3,297.0 L1213.0,300.7 L1215.8,304.2 L1218.5,307.7 L1221.2,311.2 L1223.9,314.6 L1226.6,317.9 L1229.3,321.1 L1232.0,324.3 L1234.7,327.4 L1237.4,330.4 L1240.2,333.4 L1242.9,336.4 L1245.6,339.3 L1248.3,342.1 L1251.0,344.8 L1253.7,347.6 L1256.4,350.2 L1259.1,352.8 L1261.8,355.4 L1264.5,357.9 L1267.3,360.4 L1270.0,362.8 L1272.7,365.1 L1275.4,367.4 L1278.1,369.7 L1280.8,371.9 L1283.5,374.1 L1286.2,376.3 L1288.9,378.4 L1291.6,380.4 L1294.4,382.4 L1297.1,384.4 L1299.8,386.3 L1302.5,388.2 L1305.2,390.1 L1307.9,391.9 L1310.6,393.7 L1313.3,395.4 L1316.0,397.1 L1318.8,398.8 L1321.5,400.4 L1324.2,402.1 L1326.9,403.6 L1329.6,405.2 L1332.3,406.7 L1335.0,408.2 L1337.7,409.6 L1340.4,411.0 L1343.1,412.4 L1345.9,413.8 L1348.6,415.1 L1351.3,416.4 L1354.0,417.7 L1356.7,419.0 L1359.4,420.2 L1362.1,421.4 L1364.8,422.6 L1367.5,423.8 L1370.3,424.9 L1373.0,426.0 L1375.7,427.1 L1378.4,428.2 L1381.1,429.2 L1383.8,430.2 L1386.5,431.2 L1389.2,432.2 L1391.9,433.2 L1394.6,434.1 L1397.4,435.0 L1400.1,435.9 L1402.8,436.8 L1405.5,437.7 L1408.2,438.5 L1410.9,439.3 L1413.6,440.2 L1416.3,441.0 L1419.0,441.7 L1421.7,442.5 L1424.5,443.2 L1427.2,444.0 L1429.9,444.7 L1432.6,445.4 L1435.3,446.1 L1438.0,446.7 L1440.7,447.4 L1443.4,448.1 L1446.1,448.7 L1448.9,449.3 L1451.6,449.9 L1454.3,450.5 L1457.0,451.1 L1459.7,451.7 L1462.4,452.2 L1465.1,452.8 L1467.8,453.3 L1470.5,453.8 L1473.2,454.3 L1476.0,454.8 L1478.7,455.3 L1481.4,455.8 L1484.1,456.3 L1486.8,456.7 L1489.5,457.2 L1492.2,457.6 L1494.9,458.1 L1497.6,458.5 L1500.4,458.9 L1503.1,459.3 L1505.8,459.7 L1508.5,460.1 L1511.2,460.5 L1513.9,460.9 L1516.6,461.3 L1519.3,461.6 L1522.0,462.0 L1524.7,462.3 L1527.5,462.7 L1530.2,463.0 L1532.9,463.3 L1535.6,463.6 L1538.3,464.0 L1541.0,464.3 L1543.7,464.6 L1546.4,464.9 L1549.1,465.2 L1551.8,465.4 L1554.6,465.7 L1557.3,466.0 L1560.0,466.3 L1562.7,466.5 L1565.4,466.8 L1568.1,467.0 L1570.8,467.3 L1573.5,467.5 L1576.2,467.8 L1579.0,468.0 L1581.7,468.2 L1584.4,468.5 L1587.1,468.7 L1589.8,468.9 L1592.5,469.1 L1595.2,469.3 L1597.9,469.5 L1600.6,469.7 L1603.3,469.9 L1606.1,470.1 L1608.8,470.3 L1611.5,470.5 L1614.2,470.7 L1616.9,470.8 L1619.6,471.0 L1622.3,471.2 L1625.0,471.4 L1627.7,471.5 L1630.5,471.7 L1633.2,471.9 L1635.9,472.0 L1638.6,472.2 L1641.3,472.3 L1644.0,472.5 L1646.7,472.6 L1649.4,472.8 L1652.1,472.9 L1654.8,473.0 L1657.6,473.2 L1660.3,473.3 L1663.0,473.4 L1665.7,473.6 L1668.4,473.7 L1671.1,473.8 L1673.8,473.9 L1676.5,474.1 L1679.2,474.2 L1681.9,474.3 L1684.7,474.4 L1687.4,474.5 L1690.1,474.6 L1692.8,474.7 L1695.5,474.9 L1698.2,475.0 L1700.9,475.1 L1703.6,475.2 L1706.3,475.3 L1709.1,475.4 L1711.8,475.5 L1714.5,475.6 L1717.2,475.7 L1719.9,475.7 L1722.6,475.8 L1725.3,475.9 L1728.0,476.0 L1730.7,476.1 L1733.4,476.2 L1736.2,476.3 L1738.9,476.4 L1741.6,476.4 L1744.3,476.5 L1747.0,476.6 L1751.2,476.6"/>
<path d="M1124.1,67.0 L1126.3,73.8 L1129.0,82.2 L1131.7,90.4 L1134.4,98.4 L1137.2,106.3 L1139.9,114.0 L1142.6,121.6 L1145.3,129.0 L1148.0,136.3 L1150.7,143.4 L1153.4,150.4 L1156.1,157.2 L1158.8,163.9 L1161.5,170.5 L1164.3,177.0 L1167.0,183.3 L1169.7,189.4 L1172.4,195.5 L1175.1,201.4 L1177.8,207.2 L1180.5,212.9 L1183.2,218.5 L1185.9,224.0 L1188.7,229.3 L1191.4,234.6 L1194.1,239.7 L1196.8,244.8 L1199.5,249.7 L1202.2,254.5 L1204.9,259.3 L1207.6,263.9 L1210.3,268.4 L1213.0,272.9 L1215.8,277.3 L1218.5,281.5 L1221.2,285.7 L1223.9,289.8 L1226.6,293.8 L1229.3,297.7 L1232.0,301.6 L1234.7,305.3 L1237.4,309.0 L1240.2,312.6 L1242.9,316.2 L1245.6,319.7 L1248.3,323.0 L1251.0,326.4 L1253.7,329.6 L1256.4,332.8 L1259.1,335.9 L1261.8,339.0 L1264.5,342.0 L1267.3,344.9 L1270.0,347.8 L1272.7,350.6 L1275.4,353.3 L1278.1,356.0 L1280.8,358.6 L1283.5,361.2 L1286.2,363.7 L1288.9,366.2 L1291.6,368.6 L1294.4,371.0 L1297.1,373.3 L1299.8,375.6 L1302.5,377.8 L1305.2,380.0 L1307.9,382.1 L1310.6,384.2 L1313.3,386.2 L1316.0,388.2 L1318.8,390.2 L1321.5,392.1 L1324.2,394.0 L1326.9,395.8 L1329.6,397.6 L1332.3,399.4 L1335.0,401.1 L1337.7,402.8 L1340.4,404.4 L1343.1,406.0 L1345.9,407.6 L1348.6,409.1 L1351.3,410.6 L1354.0,412.1 L1356.7,413.6 L1359.4,415.0 L1362.1,416.4 L1364.8,417.7 L1367.5,419.0 L1370.3,420.3 L1373.0,421.6 L1375.7,422.8 L1378.4,424.1 L1381.1,425.2 L1383.8,426.4 L1386.5,427.5 L1389.2,428.7 L1391.9,429.8 L1394.6,430.8 L1397.4,431.9 L1400.1,432.9 L1402.8,433.9 L1405.5,434.9 L1408.2,435.8 L1410.9,436.8 L1413.6,437.7 L1416.3,438.6 L1419.0,439.4 L1421.7,440.3 L1424.5,441.1 L1427.2,442.0 L1429.9,442.8 L1432.6,443.5 L1435.3,444.3 L1438.0,445.1 L1440.7,445.8 L1443.4,446.5 L1446.1,447.2 L1448.9,447.9 L1451.6,448.6 L1454.3,449.3 L1457.0,449.9 L1459.7,450.5 L1462.4,451.1 L1465.1,451.8 L1467.8,452.3 L1470.5,452.9 L1473.2,453.5 L1476.0,454.0 L1478.7,454.6 L1481.4,455.1 L1484.1,455.6 L1486.8,456.1 L1489.5,456.6 L1492.2,457.1 L1494.9,457.6 L1497.6,458.1 L1500.4,458.5 L1503.1,459.0 L1505.8,459.4 L1508.5,459.8 L1511.2,460.3 L1513.9,460.7 L1516.6,461.1 L1519.3,461.5 L1522.0,461.8 L1524.7,462.2 L1527.5,462.6 L1530.2,462.9 L1532.9,463.3 L1535.6,463.6 L1538.3,464.0 L1541.0,464.3 L1543.7,464.6 L1546.4,464.9 L1549.1,465.3 L1551.8,465.6 L1554.6,465.9 L1557.3,466.1 L1560.0,466.4 L1562.7,466.7 L1565.4,467.0 L1568.1,467.2 L1570.8,467.5 L1573.5,467.8 L1576.2,468.0 L1579.0,468.3 L1581.7,468.5 L1584.4,468.7 L1587.1,469.0 L1589.8,469.2 L1592.5,469.4 L1595.2,469.6 L1597.9,469.8 L1600.6,470.0 L1603.3,470.2 L1606.1,470.4 L1608.8,470.6 L1611.5,470.8 L1614.2,471.0 L1616.9,471.2 L1619.6,471.4 L1622.3,471.5 L1625.0,471.7 L1627.7,471.9 L1630.5,472.0 L1633.2,472.2 L1635.9,472.4 L1638.6,472.5 L1641.3,472.7 L1644.0,472.8 L1646.7,472.9 L1649.4,473.1 L1652.1,473.2 L1654.8,473.4 L1657.6,473.5 L1660.3,473.6 L1663.0,473.7 L1665.7,473.9 L1668.4,474.0 L1671.1,474.1 L1673.8,474.2 L1676.5,474.3 L1679.2,474.5 L1681.9,474.6 L1684.7,474.7 L1687.4,474.8 L1690.1,474.9 L1692.8,475.0 L1695.5,475.1 L1698.2,475.2 L1700.9,475.3 L1703.6,475.4 L1706.3,475.5 L1709.1,475.5 L1711.8,475.6 L1714.5,475.7 L1717.2,475.8 L1719.9,475.9 L1722.6,476.0 L1725.3,476.0 L1728.0,476.1 L1730.7,476.2 L1733.4,476.3 L1736.2,476.3 L1738.9,476.4 L1741.6,476.5 L1744.3,476.5 L1747.0,476.6 L1751.2,476.6"/>
</g>
<path d="M1045.0,497.7 v-1.8 M1045.0,48.4 v1.8 M1185.4,497.7 v-1.8 M1185.4,48.4 v1.8 M1325.8,497.7 v-1.8 M1325.8,48.4 v1.8 M1466.2,497.7 v-1.8 M1466.2,48.4 v1.8 M1606.6,497.7 v-1.8 M1606.6,48.4 v1.8 M1747.0,497.7 v-1.8 M1747.0,48.4 v1.8 M1032.0,476.6 h1.8 M1761.2,476.6 h-1.8 M1032.0,411.7 h1.8 M1761.2,411.7 h-1.8 M1032.0,346.7 h1.8 M1761.2,346.7 h-1.8 M1032.0,281.8 h1.8 M1761.2,281.8 h-1.8 M1032.0,216.9 h1.8 M1761.2,216.9 h-1.8 M1032.0,151.9 h1.8 M1761.2,151.9 h-1.8 M1032.0,87.0 h1.8 M1761.2,87.0 h-1.8" fill="none" stroke="#000" stroke-width="0.8" stroke-opacity="0.5"/>
<g fill="#000">
<rect x="1029.30" y="46.10" width="2.70" height="453.70"/>
<rect x="1761.20" y="46.10" width="2.60" height="453.70"/>
<rect x="1029.30" y="46.10" width="734.50" height="2.30"/>
<rect x="1029.30" y="497.70" width="734.50" height="2.10"/>
</g>
<text transform="translate(97.50 528.10) scale(1 1.100)" font-size="26.00" text-anchor="middle">0</text>
<text transform="translate(272.70 528.10) scale(1 1.100)" font-size="26.00" text-anchor="middle">1</text>
<text transform="translate(447.90 528.10) scale(1 1.100)" font-size="26.00" text-anchor="middle">2</text>
<text transform="translate(623.10 528.10) scale(1 1.100)" font-size="26.00" text-anchor="middle">3</text>
<text transform="translate(798.30 528.10) scale(1 1.100)" font-size="26.00" text-anchor="middle">4</text>
<text transform="translate(76.30 484.00) scale(1 1.100)" font-size="26.00" text-anchor="end" letter-spacing="0.50">0.0</text>
<text transform="translate(76.30 414.20) scale(1 1.100)" font-size="26.00" text-anchor="end" letter-spacing="0.50">0.1</text>
<text transform="translate(76.30 344.40) scale(1 1.100)" font-size="26.00" text-anchor="end" letter-spacing="0.50">0.2</text>
<text transform="translate(76.30 274.60) scale(1 1.100)" font-size="26.00" text-anchor="end" letter-spacing="0.50">0.3</text>
<text transform="translate(76.30 204.80) scale(1 1.100)" font-size="26.00" text-anchor="end" letter-spacing="0.50">0.4</text>
<text transform="translate(76.30 135.00) scale(1 1.100)" font-size="26.00" text-anchor="end" letter-spacing="0.50">0.5</text>
<text transform="translate(76.30 65.20) scale(1 1.100)" font-size="26.00" text-anchor="end" letter-spacing="0.50">0.6</text>
<text transform="translate(1045.00 530.10) scale(1 1.100)" font-size="26.00" text-anchor="middle">0</text>
<text transform="translate(1185.40 530.10) scale(1 1.100)" font-size="26.00" text-anchor="middle">1</text>
<text transform="translate(1325.80 530.10) scale(1 1.100)" font-size="26.00" text-anchor="middle">2</text>
<text transform="translate(1466.20 530.10) scale(1 1.100)" font-size="26.00" text-anchor="middle">3</text>
<text transform="translate(1606.60 530.10) scale(1 1.100)" font-size="26.00" text-anchor="middle">4</text>
<text transform="translate(1747.00 530.10) scale(1 1.100)" font-size="26.00" text-anchor="middle">5</text>
<text transform="translate(1023.50 486.40) scale(1 1.100)" font-size="26.00" text-anchor="end" letter-spacing="0.70">0.00</text>
<text transform="translate(1023.50 421.47) scale(1 1.100)" font-size="26.00" text-anchor="end" letter-spacing="0.70">0.05</text>
<text transform="translate(1023.50 356.53) scale(1 1.100)" font-size="26.00" text-anchor="end" letter-spacing="0.70">0.10</text>
<text transform="translate(1023.50 291.60) scale(1 1.100)" font-size="26.00" text-anchor="end" letter-spacing="0.70">0.15</text>
<text transform="translate(1023.50 226.66) scale(1 1.100)" font-size="26.00" text-anchor="end" letter-spacing="0.70">0.20</text>
<text transform="translate(1023.50 161.73) scale(1 1.100)" font-size="26.00" text-anchor="end" letter-spacing="0.70">0.25</text>
<text transform="translate(1023.50 96.79) scale(1 1.100)" font-size="26.00" text-anchor="end" letter-spacing="0.70">0.30</text>
<text transform="translate(449.00 27.00) scale(1 1.100)" font-size="26.40" text-anchor="middle" letter-spacing="0.95"><tspan class="it">ϕ</tspan>=0.03,<tspan class="it">γ</tspan><tspan font-size="16.37" dy="4.20">1</tspan><tspan dy="-4.20">=0.3,</tspan><tspan class="it">R</tspan><tspan font-size="16.37" dy="4.20">1</tspan><tspan dy="-4.20">=0.3</tspan></text>
<text transform="translate(1397.70 27.80) scale(1 1.100)" font-size="27.20" text-anchor="middle" letter-spacing="1.00"><tspan class="it">ϕ</tspan>=0.03,<tspan class="it">γ</tspan><tspan font-size="16.86" dy="4.20">1</tspan><tspan dy="-4.20">=2.0,</tspan><tspan class="it">R</tspan><tspan font-size="16.86" dy="4.20">1</tspan><tspan dy="-4.20">=0.3</tspan></text>
<text transform="translate(11.30 36.30)" font-size="42.20" class="b ns">A</text>
<text transform="translate(908.00 43.80)" font-size="42.20" class="b ns">B</text>
<text transform="translate(25.70 271.50) rotate(-90)" font-size="27.00" text-anchor="middle">G'(<tspan class="it">η</tspan>)</text>
<text transform="translate(955.00 272.40) rotate(-90)" font-size="27.00" text-anchor="middle">G'(<tspan class="it">η</tspan>)</text>
<text transform="translate(449.60 565.80) scale(1 1.060)" font-size="26.00" text-anchor="middle" class="it">η</text>
<text transform="translate(1397.00 569.20) scale(1 1.060)" font-size="26.00" text-anchor="middle" class="it">η</text>
<rect x="514.6" y="67.5" width="272.0" height="96.8" rx="3" ry="3" fill="#fff" stroke="#000" stroke-width="6.2"/>
<line x1="527.7" y1="94.3" x2="565.3" y2="94.3" stroke="#fdfb36" stroke-width="2.5"/>
<line x1="527.7" y1="138.6" x2="536.0" y2="138.6" stroke="#050508" stroke-width="2.6"/>
<line x1="557.0" y1="138.6" x2="565.3" y2="138.6" stroke="#050508" stroke-width="2.6"/>
<text transform="translate(576.50 100.50) scale(1 1.030)" font-size="24.70" letter-spacing="0.80">(MgZn<tspan font-size="17.29" dy="3.80">6</tspan><tspan dy="-3.80">Zr)/C</tspan><tspan font-size="17.29" dy="3.80">8</tspan><tspan dy="-3.80">H</tspan><tspan font-size="17.29" dy="3.80">18</tspan></text>
<text transform="translate(576.50 145.20) scale(1 1.030)" font-size="24.70" letter-spacing="0.40">Regular fluid</text>
<rect x="1460.0" y="70.0" width="280.5" height="98.9" rx="3" ry="3" fill="#fff" stroke="#000" stroke-width="6.2"/>
<line x1="1473.7" y1="96.9" x2="1512.0" y2="96.9" stroke="#fdfb36" stroke-width="1.8"/>
<line x1="1473.7" y1="142.0" x2="1482.1" y2="142.0" stroke="#050508" stroke-width="2.6"/>
<line x1="1503.6" y1="142.0" x2="1512.0" y2="142.0" stroke="#050508" stroke-width="2.6"/>
<text transform="translate(1525.20 105.00) scale(1 1.030)" font-size="25.50" letter-spacing="0.55">(MgZn<tspan font-size="17.85" dy="3.80">6</tspan><tspan dy="-3.80">Zr)/C</tspan><tspan font-size="17.85" dy="3.80">8</tspan><tspan dy="-3.80">H</tspan><tspan font-size="17.85" dy="3.80">18</tspan></text>
<text transform="translate(1525.20 148.80) scale(1 1.030)" font-size="25.50" letter-spacing="0.30">Regular fluid</text>
<text transform="translate(508.30 209.80) scale(1 1.040)" font-size="21.00"><tspan class="it">S</tspan><tspan font-size="15.12" dy="4.30" class="it b">t</tspan><tspan dy="-4.30"> = 0.1, 0.5, 0.9, 1.3, 1.7</tspan></text>
<text transform="translate(1452.60 214.20) scale(1 1.040)" font-size="21.60"><tspan class="it">S</tspan><tspan font-size="15.55" dy="4.30" class="it b">t</tspan><tspan dy="-4.30"> = 0.1, 0.5, 0.9, 1.3, 1.7</tspan></text>
<line x1="230.0" y1="423.0" x2="342.3" y2="302.0" stroke="#000" stroke-width="2.0"/>
<polygon points="359.0,284.0 345.3,309.5 342.3,302.0 334.6,299.6" fill="#000"/>
<line x1="1170.4" y1="457.3" x2="1286.2" y2="331.9" stroke="#000" stroke-width="2.0"/>
<polygon points="1302.8,313.9 1289.2,339.4 1286.2,331.9 1278.4,329.5" fill="#000"/>
</svg></body></html>
